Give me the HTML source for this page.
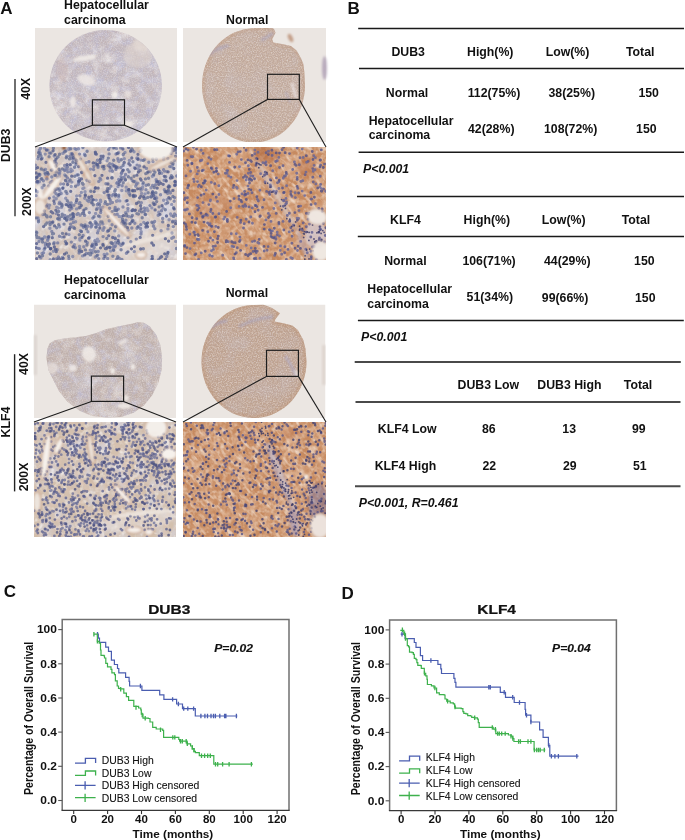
<!DOCTYPE html>
<html><head><meta charset="utf-8"><title>Figure</title>
<style>
html,body{margin:0;padding:0;background:#fff;}
body{width:685px;height:840px;position:relative;overflow:hidden;font-family:"Liberation Sans",Arial,sans-serif;}
svg text{font-family:"Liberation Sans",Arial,sans-serif;}
</style></head><body>
<svg width="685" height="840" viewBox="0 0 685 840" style="position:absolute;left:0;top:0">
<defs>
<filter id="soft" x="-5%" y="-5%" width="110%" height="110%"><feGaussianBlur stdDeviation="0.65"/></filter>
<filter id="blur1" x="-5%" y="-5%" width="110%" height="110%"><feGaussianBlur stdDeviation="0.9"/></filter>
<filter id="tx1" x="0" y="0" width="100%" height="100%">
  <feTurbulence type="fractalNoise" baseFrequency="0.07 0.05" numOctaves="3" seed="3"/>
  <feColorMatrix type="matrix" values="0 0 0 0 0.68  0 0 0 0 0.69  0 0 0 0 0.80  2.2 0 0 0 -0.9"/>
</filter>
<filter id="tx2" x="0" y="0" width="100%" height="100%">
  <feTurbulence type="fractalNoise" baseFrequency="0.06 0.08" numOctaves="3" seed="7"/>
  <feColorMatrix type="matrix" values="0 0 0 0 0.72  0 0 0 0 0.45  0 0 0 0 0.30  2.0 0 0 0 -0.9"/>
</filter>
<filter id="speck" x="0" y="0" width="100%" height="100%">
  <feTurbulence type="fractalNoise" baseFrequency="0.8" numOctaves="2" seed="11"/>
  <feColorMatrix type="matrix" values="0 0 0 0 1  0 0 0 0 0.98  0 0 0 0 0.96  0 0 0 -2.2 1.35"/>
</filter>
<filter id="speckd" x="0" y="0" width="100%" height="100%">
  <feTurbulence type="fractalNoise" baseFrequency="0.75" numOctaves="2" seed="5"/>
  <feColorMatrix type="matrix" values="0 0 0 0 0.45  0 0 0 0 0.42  0 0 0 0 0.62  2.6 0 0 0 -1.45"/>
</filter>
<filter id="speckb" x="0" y="0" width="100%" height="100%">
  <feTurbulence type="fractalNoise" baseFrequency="0.6" numOctaves="2" seed="9"/>
  <feColorMatrix type="matrix" values="0 0 0 0 0.66  0 0 0 0 0.45  0 0 0 0 0.36  2.6 0 0 0 -1.5"/>
</filter>
<filter id="blot" x="0" y="0" width="100%" height="100%">
  <feTurbulence type="fractalNoise" baseFrequency="0.045 0.06" numOctaves="4" seed="21"/>
  <feColorMatrix type="matrix" values="0 0 0 0 0.95  0 0 0 0 0.93  0 0 0 0 0.91  3.2 0 0 0 -1.75"/>
</filter>
<filter id="blot2" x="0" y="0" width="100%" height="100%">
  <feTurbulence type="fractalNoise" baseFrequency="0.05 0.04" numOctaves="4" seed="4"/>
  <feColorMatrix type="matrix" values="0 0 0 0 0.95  0 0 0 0 0.93  0 0 0 0 0.91  3.2 0 0 0 -1.75"/>
</filter>
<filter id="hfS" x="0" y="0" width="100%" height="100%">
  <feTurbulence type="fractalNoise" baseFrequency="0.26 0.1" numOctaves="2" seed="61"/>
  <feColorMatrix type="matrix" values="0 0 0 0 0.96  0 0 0 0 0.88  0 0 0 0 0.80  3.2 0 0 0 -1.65"/>
</filter>
<filter id="hfL" x="0" y="0" width="100%" height="100%">
  <feTurbulence type="fractalNoise" baseFrequency="0.22" numOctaves="2" seed="41"/>
  <feColorMatrix type="matrix" values="0 0 0 0 0.95  0 0 0 0 0.87  0 0 0 0 0.79  3.0 0 0 0 -1.45"/>
</filter>
<filter id="hfD" x="0" y="0" width="100%" height="100%">
  <feTurbulence type="fractalNoise" baseFrequency="0.18" numOctaves="2" seed="43"/>
  <feColorMatrix type="matrix" values="0 0 0 0 0.70  0 0 0 0 0.40  0 0 0 0 0.24  3.0 0 0 0 -1.5"/>
</filter>
<filter id="hfG" x="0" y="0" width="100%" height="100%">
  <feTurbulence type="fractalNoise" baseFrequency="0.2" numOctaves="2" seed="45"/>
  <feColorMatrix type="matrix" values="0 0 0 0 0.93  0 0 0 0 0.90  0 0 0 0 0.87  3.0 0 0 0 -1.5"/>
</filter>
<filter id="hfB" x="0" y="0" width="100%" height="100%">
  <feTurbulence type="fractalNoise" baseFrequency="0.16" numOctaves="2" seed="47"/>
  <feColorMatrix type="matrix" values="0 0 0 0 0.72  0 0 0 0 0.55  0 0 0 0 0.45  3.0 0 0 0 -1.55"/>
</filter>
<filter id="mott" x="0" y="0" width="100%" height="100%">
  <feTurbulence type="fractalNoise" baseFrequency="0.13" numOctaves="3" seed="51"/>
  <feColorMatrix type="matrix" values="0 0 0 0 0.52  0 0 0 0 0.51  0 0 0 0 0.68  2.6 0 0 0 -1.15"/>
</filter>
<filter id="mottw" x="0" y="0" width="100%" height="100%">
  <feTurbulence type="fractalNoise" baseFrequency="0.11" numOctaves="3" seed="53"/>
  <feColorMatrix type="matrix" values="0 0 0 0 0.97  0 0 0 0 0.95  0 0 0 0 0.94  2.6 0 0 0 -1.2"/>
</filter>
<filter id="lav" x="0" y="0" width="100%" height="100%">
  <feTurbulence type="fractalNoise" baseFrequency="0.04" numOctaves="3" seed="33"/>
  <feColorMatrix type="matrix" values="0 0 0 0 0.62  0 0 0 0 0.64  0 0 0 0 0.80  2.4 0 0 0 -1.1"/>
</filter>

<clipPath id="cd1"><rect x="35" y="28" width="142" height="114"/></clipPath>
<clipPath id="cd2"><rect x="183" y="28" width="143" height="114"/></clipPath>
<clipPath id="cd3"><rect x="35" y="147" width="142" height="113"/></clipPath>
<clipPath id="cd4"><rect x="183" y="147" width="143" height="113"/></clipPath>
<clipPath id="ck1"><rect x="34" y="304.5" width="142" height="113.5"/></clipPath>
<clipPath id="ck2"><rect x="183" y="304.5" width="142.5" height="113.5"/></clipPath>
<clipPath id="ck3"><rect x="34" y="422" width="142" height="115"/></clipPath>
<clipPath id="ck4"><rect x="183" y="422" width="143" height="115"/></clipPath>
</defs>
<g clip-path="url(#cd1)"><rect x="35" y="28" width="142" height="114" fill="#ebe6e2"/><clipPath id="td1"><ellipse cx="105.7" cy="85.6" rx="56.2" ry="55.6"/></clipPath><g clip-path="url(#td1)"><rect x="35" y="28" width="142" height="114" fill="#c1b6bc"/><rect x="35" y="28" width="142" height="114" filter="url(#lav)" opacity="0.45"/><rect x="35" y="28" width="142" height="114" filter="url(#mott)" opacity="0.7"/><rect x="35" y="28" width="142" height="114" filter="url(#mottw)" opacity="0.4"/><rect x="35" y="28" width="142" height="114" filter="url(#blot)" opacity="0.5"/><rect x="35" y="28" width="142" height="114" filter="url(#speckb)" opacity="0.55"/><rect x="35" y="28" width="142" height="114" filter="url(#speck)" opacity="0.35"/><g filter="url(#blur1)"><ellipse cx="85" cy="58" rx="12" ry="2.8" fill="#f1ece8" opacity="0.85" transform="rotate(-8 85 58)"/><ellipse cx="86" cy="80" rx="9" ry="5" fill="#efe9e5" opacity="0.8" transform="rotate(20 86 80)"/><ellipse cx="73" cy="102" rx="3" ry="6" fill="#f0eae6" opacity="0.85"/><ellipse cx="115" cy="95" rx="3" ry="3.5" fill="#f3eeea" opacity="0.9"/><ellipse cx="128" cy="94" rx="3.5" ry="4" fill="#efe7e2" opacity="0.7"/><ellipse cx="138" cy="55" rx="14" ry="13" fill="#dcd0cb" opacity="0.6"/><ellipse cx="142" cy="44" rx="9" ry="7" fill="#e4dad4" opacity="0.6"/><ellipse cx="128" cy="124" rx="5" ry="3" fill="#f1ebe6" opacity="0.85"/><ellipse cx="62" cy="70" rx="6" ry="12" fill="#c8b0a8" opacity="0.35"/></g></g></g>
<g clip-path="url(#cd2)"><rect x="183" y="28" width="143" height="114" fill="#ebe6e2"/><clipPath id="td2"><path d="M305.0,85.5L304.8,90.7L304.1,95.9L303.0,101.1L301.5,106.0L299.6,110.8L297.3,115.4L294.7,119.8L291.6,123.8L288.3,127.5L284.6,130.9L280.7,133.9L276.6,136.4L272.3,138.6L267.8,140.3L263.2,141.5L258.5,142.2L253.7,142.5L249.0,142.3L244.3,141.6L239.7,140.4L235.1,138.8L230.8,136.7L226.6,134.1L222.7,131.2L219.0,127.9L215.7,124.2L212.6,120.2L209.9,115.8L207.6,111.3L205.6,106.5L204.1,101.5L203.0,96.4L202.3,91.2L202.0,86.0L202.2,80.7L202.8,75.5L203.8,70.4L205.3,65.4L207.2,60.6L209.4,56.0L212.1,51.6L215.1,47.5L218.4,43.8L222.0,40.4L225.9,37.4L230.0,34.8L234.3,32.6L238.8,30.9L243.4,29.6L248.1,28.8L262.0,27.0L270.0,27.0L274.0,29.0L275.5,32.7L272.2,39.3L273.3,42.6L283.3,44.3L291.0,46.0L296.6,50.4L301.0,58.2L303.3,63.7L304.4,72.6Z"/></clipPath><g clip-path="url(#td2)"><rect x="183" y="28" width="143" height="114" fill="#c2aa9c"/><rect x="183" y="28" width="143" height="114" filter="url(#speckb)" opacity="0.35"/><rect x="183" y="28" width="143" height="114" filter="url(#speckd)" opacity="0.25"/><rect x="183" y="28" width="143" height="114" filter="url(#speck)" opacity="0.45"/><rect x="183" y="28" width="143" height="114" filter="url(#lav)" opacity="0.25"/><path d="M305.0,85.5L304.8,90.7L304.1,95.9L303.0,101.1L301.5,106.0L299.6,110.8L297.3,115.4L294.7,119.8L291.6,123.8L288.3,127.5L284.6,130.9L280.7,133.9L276.6,136.4L272.3,138.6L267.8,140.3L263.2,141.5L258.5,142.2L253.7,142.5L249.0,142.3L244.3,141.6L239.7,140.4L235.1,138.8L230.8,136.7L226.6,134.1L222.7,131.2L219.0,127.9L215.7,124.2L212.6,120.2L209.9,115.8L207.6,111.3L205.6,106.5L204.1,101.5L203.0,96.4L202.3,91.2L202.0,86.0L202.2,80.7L202.8,75.5L203.8,70.4L205.3,65.4L207.2,60.6L209.4,56.0L212.1,51.6L215.1,47.5L218.4,43.8L222.0,40.4L225.9,37.4L230.0,34.8L234.3,32.6L238.8,30.9L243.4,29.6L248.1,28.8L262.0,27.0L270.0,27.0L274.0,29.0L275.5,32.7L272.2,39.3L273.3,42.6L283.3,44.3L291.0,46.0L296.6,50.4L301.0,58.2L303.3,63.7L304.4,72.6Z" fill="none" stroke="#b98a66" stroke-width="6" stroke-opacity="0.22" filter="url(#blur1)"/><g filter="url(#blur1)" stroke-linecap="round" fill="none"><path d="M209,55 Q218,47 228,46" stroke="#a4a0c0" stroke-width="3" stroke-opacity="0.5"/><path d="M262,40 L272,34" stroke="#a4a0c0" stroke-width="3" stroke-opacity="0.5"/><path d="M292,84 L296,97" stroke="#e8e0e0" stroke-width="3" stroke-opacity="0.8"/><path d="M286,92 L290,102" stroke="#a8a4c0" stroke-width="2" stroke-opacity="0.5"/></g></g></g>
<g filter="url(#blur1)"><ellipse cx="290.5" cy="38" rx="2.2" ry="4.5" fill="#c4a08a" transform="rotate(-25 290.5 38)"/><ellipse cx="324.5" cy="68" rx="2.5" ry="12" fill="#a898b0" opacity="0.75"/></g>
<g clip-path="url(#ck1)"><rect x="34" y="304.5" width="142" height="113.5" fill="#ebe6e2"/><clipPath id="tk1"><path d="M49.5,343.4L54.7,340.3L65.1,338.2L75.5,337.2L85.8,336.1L96.2,333.0L106.6,328.9L116.9,326.8L131.4,323.7L137.6,322.2L143.9,322.7L150.1,326.8L156.3,335.1L160.5,345.5L162.1,357.9L161.5,370.3L158.4,382.8L152.2,395.2L143.9,405.6L133.5,412.8L121.1,417.0L106.6,417.6L92.0,416.0L79.6,410.8L67.2,401.4L58.9,391.1L53.7,380.7L48.5,370.3L46.4,357.9L47.5,348.6Z"/></clipPath><g clip-path="url(#tk1)"><rect x="34" y="304.5" width="142" height="113.5" fill="#bfb0ac"/><rect x="34" y="304.5" width="142" height="113.5" filter="url(#lav)" opacity="0.3"/><rect x="34" y="304.5" width="142" height="113.5" filter="url(#mott)" opacity="0.6"/><rect x="34" y="304.5" width="142" height="113.5" filter="url(#mottw)" opacity="0.3"/><rect x="34" y="304.5" width="142" height="113.5" filter="url(#blot2)" opacity="0.45"/><rect x="34" y="304.5" width="142" height="113.5" filter="url(#speckb)" opacity="0.6"/><rect x="34" y="304.5" width="142" height="113.5" filter="url(#speck)" opacity="0.35"/><g filter="url(#blur1)"><ellipse cx="89" cy="354" rx="7" ry="8" fill="#f1ece8" opacity="0.85" transform="rotate(-20 89 354)"/><ellipse cx="73" cy="368" rx="4" ry="3.5" fill="#f0eae6" opacity="0.85"/><ellipse cx="112.7" cy="371" rx="2.2" ry="3" fill="#f3eeea" opacity="0.9"/><ellipse cx="133" cy="367" rx="2.2" ry="3" fill="#f3eeea" opacity="0.9"/><ellipse cx="123" cy="342" rx="5" ry="2" fill="#efe8e3" opacity="0.8" transform="rotate(-35 123 342)"/><ellipse cx="124" cy="406" rx="7" ry="3" fill="#f1ebe6" opacity="0.85"/><ellipse cx="126" cy="398" rx="3" ry="3" fill="#f1ebe6" opacity="0.85"/><ellipse cx="52" cy="368" rx="6" ry="6" fill="#e8e0dc" opacity="0.7"/></g></g></g>
<g clip-path="url(#ck2)"><rect x="183" y="304.5" width="142.5" height="113.5" fill="#ebe6e2"/><clipPath id="tk2"><path d="M306.5,361.5L306.3,366.8L305.6,372.1L304.4,377.3L302.8,382.3L300.8,387.2L298.3,391.8L295.5,396.1L292.3,400.2L288.7,403.9L284.9,407.2L280.7,410.1L276.4,412.6L271.8,414.7L267.1,416.2L262.2,417.3L257.3,417.9L252.4,418.0L247.4,417.6L242.5,416.6L237.8,415.2L233.1,413.4L228.7,411.0L224.5,408.2L220.5,405.0L216.9,401.5L213.5,397.5L210.6,393.3L208.0,388.7L205.8,383.9L204.1,379.0L202.8,373.8L201.9,368.6L201.5,363.3L201.6,358.0L202.1,352.7L203.1,347.4L204.6,342.4L206.5,337.4L208.8,332.7L211.5,328.3L214.6,324.1L218.1,320.3L221.8,316.9L225.9,313.8L230.2,311.2L234.7,309.0L239.4,307.2L244.2,306.0L249.1,305.3L254.0,305.0L263.0,304.6L272.0,308.0L280.0,313.3L275.5,318.9L274.4,321.6L283.3,323.3L292.2,325.5L297.8,330.0L303.3,340.0L305.5,348.9Z"/></clipPath><g clip-path="url(#tk2)"><rect x="183" y="304.5" width="142.5" height="113.5" fill="#bea290"/><rect x="183" y="304.5" width="142.5" height="113.5" filter="url(#speckb)" opacity="0.4"/><rect x="183" y="304.5" width="142.5" height="113.5" filter="url(#speckd)" opacity="0.25"/><rect x="183" y="304.5" width="142.5" height="113.5" filter="url(#speck)" opacity="0.45"/><rect x="183" y="304.5" width="142.5" height="113.5" filter="url(#lav)" opacity="0.25"/><path d="M306.5,361.5L306.3,366.8L305.6,372.1L304.4,377.3L302.8,382.3L300.8,387.2L298.3,391.8L295.5,396.1L292.3,400.2L288.7,403.9L284.9,407.2L280.7,410.1L276.4,412.6L271.8,414.7L267.1,416.2L262.2,417.3L257.3,417.9L252.4,418.0L247.4,417.6L242.5,416.6L237.8,415.2L233.1,413.4L228.7,411.0L224.5,408.2L220.5,405.0L216.9,401.5L213.5,397.5L210.6,393.3L208.0,388.7L205.8,383.9L204.1,379.0L202.8,373.8L201.9,368.6L201.5,363.3L201.6,358.0L202.1,352.7L203.1,347.4L204.6,342.4L206.5,337.4L208.8,332.7L211.5,328.3L214.6,324.1L218.1,320.3L221.8,316.9L225.9,313.8L230.2,311.2L234.7,309.0L239.4,307.2L244.2,306.0L249.1,305.3L254.0,305.0L263.0,304.6L272.0,308.0L280.0,313.3L275.5,318.9L274.4,321.6L283.3,323.3L292.2,325.5L297.8,330.0L303.3,340.0L305.5,348.9Z" fill="none" stroke="#b98a66" stroke-width="6" stroke-opacity="0.28" filter="url(#blur1)"/><g filter="url(#blur1)" stroke-linecap="round" fill="none"><path d="M212,327 Q218,322 226,321" stroke="#a4a0c0" stroke-width="3" stroke-opacity="0.55"/><path d="M240,326 Q255,318 272,317" stroke="#a4a0c0" stroke-width="3" stroke-opacity="0.5"/><path d="M286,357 Q292,366 296,376" stroke="#a8a4c4" stroke-width="3" stroke-opacity="0.55"/><path d="M296,372 L298,376" stroke="#f0e8e4" stroke-width="3" stroke-opacity="0.8"/></g></g></g>
<rect x="34" y="335" width="3" height="40" fill="#d8d0cc" opacity="0.8" filter="url(#blur1)"/>
<rect x="322" y="345" width="3.5" height="40" fill="#dbd1cb" opacity="0.8" filter="url(#blur1)"/>
<g clip-path="url(#cd3)"><rect x="35" y="147" width="142" height="113" fill="#d2c4bc"/><rect x="35" y="147" width="142" height="113" filter="url(#tx1)" opacity="1"/><rect x="35" y="147" width="142" height="113" filter="url(#hfG)" opacity="0.7"/><rect x="35" y="147" width="142" height="113" filter="url(#hfB)" opacity="0.5"/><g filter="url(#blur1)"><ellipse cx="52" cy="187.5" rx="14.6" ry="3.5" fill="#f6f1ec" fill-opacity="0.95" stroke="#c39a7c" stroke-width="1.2" stroke-opacity="0.7" transform="rotate(-52 52 187.5)"/><ellipse cx="52.5" cy="165.5" rx="7.4" ry="3" fill="#f6f1ec" fill-opacity="0.95" stroke="#c39a7c" stroke-width="1.2" stroke-opacity="0.7" transform="rotate(61.7 52.5 165.5)"/><ellipse cx="40.5" cy="194" rx="9.3" ry="2" fill="#f6f1ec" fill-opacity="0.9" transform="rotate(74.5 40.5 194)"/><ellipse cx="84" cy="169" rx="18.4" ry="2.5" fill="#eee6de" fill-opacity="0.85" stroke="#c39a7c" stroke-width="1.2" stroke-opacity="0.7" transform="rotate(60.6 84 169)"/><ellipse cx="116.5" cy="222" rx="20.2" ry="2.5" fill="#f6f1ec" fill-opacity="0.9" stroke="#c39a7c" stroke-width="1.2" stroke-opacity="0.7" transform="rotate(48 116.5 222)"/><ellipse cx="156" cy="150" rx="17" ry="10" fill="#f4efea" fill-opacity="0.97" stroke="#c39a7c" stroke-width="1.2" stroke-opacity="0.7" transform="rotate(0 156 150)"/><ellipse cx="163" cy="163.5" rx="15.4" ry="2.5" fill="#eee6de" fill-opacity="0.85" stroke="#c39a7c" stroke-width="1.2" stroke-opacity="0.7" transform="rotate(-24.9 163 163.5)"/><ellipse cx="147" cy="245" rx="30" ry="14" fill="#e6dbd3" fill-opacity="0.55" transform="rotate(-20 147 245)"/><ellipse cx="149" cy="239.5" rx="29" ry="1.5" fill="#eee6de" fill-opacity="0.8" transform="rotate(-15 149 239.5)"/><ellipse cx="141" cy="255" rx="5" ry="3" fill="#f6f1ec" fill-opacity="0.9" stroke="#c39a7c" stroke-width="1.2" stroke-opacity="0.7" transform="rotate(0 141 255)"/><ellipse cx="40" cy="207" rx="6" ry="8" fill="#eee6de" fill-opacity="0.8" stroke="#c39a7c" stroke-width="1.2" stroke-opacity="0.7" transform="rotate(0 40 207)"/><ellipse cx="64" cy="148" rx="2" ry="2" fill="#7a3818" fill-opacity="0.9" transform="rotate(0 64 148)"/><ellipse cx="47" cy="177" rx="1.5" ry="2.2" fill="#9a5530" fill-opacity="0.8" transform="rotate(0 47 177)"/><ellipse cx="85" cy="172" rx="2" ry="4" fill="#b07048" fill-opacity="0.6" transform="rotate(20 85 172)"/><path transform="translate(35,147)" d="M83.3 19.0l8.7 10.6M66.0 76.6l6.4 -4.2M38.9 80.2l4.2 6.4M5.7 18.8l5.7 3.6M50.7 53.0l8.3 2.4M56.4 20.6l8.7 -3.8M11.8 96.3l10.8 3.9M129.1 43.5l8.9 -1.5M56.5 77.3l6.0 -0.5M76.3 37.5l5.6 2.6M-3.6 64.4l4.1 -6.0M22.5 3.1l6.7 2.7M105.7 39.6l11.2 -0.6M70.8 102.7l6.1 5.9M100.0 79.1l3.9 -4.6M-0.1 37.5l9.6 9.6M122.5 9.6l9.8 6.3M118.0 92.4l5.6 -4.4M115.5 85.8l13.1 -1.5M130.2 12.1l9.5 9.8M46.3 3.3l9.6 4.0M48.3 2.1l6.4 5.2M8.8 110.3l6.5 -4.6M12.1 115.7l12.3 -4.9M9.5 75.4l6.8 -11.2M91.2 100.4l9.6 1.4M117.2 24.3l7.7 2.7M79.0 60.8l5.3 6.9M38.8 78.5l12.9 -2.7M3.3 22.1l4.8 -4.4M13.3 37.1l8.9 -1.0M96.1 78.2l11.0 -3.2M95.8 62.6l7.0 0.7M43.4 78.1l10.2 -6.1M61.1 51.0l4.8 -6.9M2.5 117.1l11.8 -1.5M96.3 28.1l6.9 9.5M112.5 52.2l8.8 10.7M3.9 45.7l8.6 -4.4M88.7 12.6l8.8 8.2" fill="none" stroke="#c9a88c" stroke-width="1.0" stroke-opacity="0.45" stroke-linecap="round"/></g><g filter="url(#soft)"><path d="M54.1 242.8h0M71.2 203.0h0M39.0 241.4h0M39.3 149.9h0M168.4 190.1h0M67.8 171.7h0M76.1 149.4h0M61.4 259.2h0M137.5 227.4h0M94.9 240.8h0M78.1 213.4h0M155.2 204.1h0M39.9 174.4h0M93.8 166.5h0M134.8 223.2h0M97.3 204.5h0M39.2 151.9h0M174.6 214.0h0M59.2 203.8h0M144.4 208.0h0M68.0 205.1h0M149.9 205.6h0M95.5 153.3h0M115.9 169.6h0M67.6 167.0h0M71.3 242.1h0M73.8 227.4h0M50.4 248.7h0M64.7 215.4h0M137.1 165.1h0M173.5 237.2h0M66.7 220.3h0M116.8 183.3h0M43.3 180.7h0M159.3 181.6h0M79.1 253.1h0M116.0 166.4h0M173.3 226.6h0M49.8 222.3h0M106.0 183.8h0M63.5 184.0h0M146.1 185.3h0M130.8 241.7h0M83.8 246.7h0M103.8 258.4h0M164.4 171.1h0M158.2 215.3h0M45.4 244.9h0M152.6 185.5h0M146.0 189.7h0M66.8 156.2h0M161.5 210.8h0M100.0 178.3h0M69.0 258.7h0M164.3 189.7h0M164.1 180.2h0M102.7 158.3h0M40.6 148.2h0M77.0 214.4h0M79.5 154.1h0M65.6 216.8h0M112.1 224.8h0M71.8 208.2h0M70.0 156.2h0M174.6 197.6h0M126.4 253.3h0M78.6 184.0h0M78.0 184.8h0M117.2 214.3h0M125.2 179.9h0M169.8 166.6h0M80.4 159.1h0M165.5 180.2h0M79.9 249.0h0M96.4 164.8h0M171.8 238.3h0M111.9 243.2h0M38.5 220.0h0M116.0 154.0h0M54.6 161.1h0M152.7 192.0h0M110.1 203.6h0M97.2 224.6h0M68.8 202.9h0M67.0 193.6h0M87.8 226.2h0M119.4 243.8h0M70.6 171.6h0M131.8 228.0h0M108.1 165.6h0M40.8 257.9h0M124.2 177.2h0M171.2 162.7h0M154.6 221.5h0M98.2 251.4h0M89.3 237.7h0M77.0 175.0h0M35.6 168.5h0M38.0 217.9h0M153.6 170.3h0M112.0 177.9h0M70.6 224.2h0M112.4 202.5h0M144.2 211.5h0M75.3 159.2h0M51.8 231.4h0M172.0 233.0h0M54.4 203.5h0M79.2 203.8h0M110.0 147.1h0M98.8 181.4h0M146.2 224.2h0M35.6 178.4h0M107.6 258.5h0M153.5 193.2h0M175.2 181.5h0M123.0 207.0h0M35.5 191.0h0M92.5 244.3h0M141.3 202.7h0M125.9 220.3h0M92.8 218.1h0M72.6 227.0h0M112.3 164.2h0M107.5 231.2h0M107.0 253.9h0M92.1 224.8h0M64.7 170.5h0M73.2 155.5h0M109.3 188.6h0M139.6 166.0h0M136.3 239.1h0M121.6 173.2h0M59.5 236.2h0M81.8 172.1h0M39.3 248.6h0M79.9 195.8h0M146.5 168.5h0M58.5 257.0h0M121.1 176.6h0M54.7 162.6h0M137.0 228.2h0M42.9 214.5h0M65.8 150.9h0M122.1 185.7h0M91.8 202.9h0M58.9 173.2h0M100.7 212.5h0M136.5 184.3h0M89.4 212.6h0M91.8 246.4h0M88.9 161.7h0M40.0 153.9h0M47.9 150.1h0M140.7 224.6h0M129.1 191.0h0M43.5 252.7h0M84.6 215.4h0M109.1 153.9h0M93.6 169.5h0M95.2 221.8h0M140.5 228.5h0M48.0 238.9h0M91.1 227.0h0M156.5 181.3h0M69.8 210.0h0M83.1 235.5h0M117.9 158.8h0M98.7 258.6h0M153.5 226.2h0M57.3 188.8h0M48.8 186.0h0M41.2 239.1h0M79.5 180.7h0M81.2 231.6h0M109.7 163.8h0M174.1 201.2h0M166.7 256.6h0M148.8 162.2h0M116.7 259.2h0M86.3 253.5h0M92.2 199.5h0M132.6 210.6h0M61.2 193.5h0M42.1 158.2h0M72.7 159.1h0M45.3 243.1h0M87.3 242.8h0M75.3 247.7h0M95.4 223.3h0M176.7 176.0h0M141.0 234.0h0M104.2 192.6h0M155.9 198.8h0M52.0 181.2h0M112.1 211.6h0M109.6 208.3h0M170.4 193.1h0M78.7 181.1h0M118.3 209.1h0M58.1 218.9h0M139.5 210.9h0M92.1 252.8h0M89.4 199.5h0M87.9 231.7h0M59.4 176.4h0M118.7 179.4h0M71.6 205.1h0M133.2 196.0h0M104.0 227.8h0M38.7 175.6h0M170.2 192.1h0M121.9 259.5h0M110.9 186.2h0M113.5 194.4h0M51.8 177.0h0M103.1 236.6h0M90.3 222.6h0M156.3 159.0h0M163.6 169.7h0M94.2 247.3h0M76.0 202.6h0M112.4 171.3h0M175.4 221.3h0M172.6 177.2h0M97.5 232.9h0M67.5 178.0h0M114.6 214.6h0M56.1 193.8h0M87.2 200.2h0M121.0 167.5h0M81.3 225.0h0M79.8 202.8h0M71.4 156.9h0M134.8 210.6h0M67.1 169.5h0M160.6 194.7h0M37.8 181.5h0M47.0 172.4h0M174.9 185.5h0M108.6 149.6h0M54.8 175.3h0M137.9 158.7h0M54.7 192.1h0M125.6 174.4h0M73.9 205.2h0M169.7 186.8h0M121.1 245.4h0M131.4 217.1h0M115.2 207.5h0M162.6 218.5h0M59.9 171.3h0M110.3 200.5h0M127.9 208.5h0M154.8 228.7h0M39.3 181.8h0M159.8 171.4h0M155.4 184.9h0M57.7 242.9h0M97.4 160.3h0M73.3 222.4h0M120.7 147.9h0M114.8 246.8h0M145.6 214.6h0M167.6 193.2h0" stroke="#66709c" stroke-width="3.4" stroke-linecap="round" stroke-opacity="0.72" fill="none"/><path d="M128.0 237.6h0M79.5 246.4h0M150.9 196.8h0M59.5 219.6h0M83.4 227.3h0M38.1 248.4h0M136.8 158.3h0M172.7 221.2h0M100.5 200.2h0M97.6 208.2h0M143.8 222.4h0M76.0 164.6h0M37.7 191.8h0M69.0 234.6h0M171.4 166.8h0M107.9 195.3h0M167.9 228.9h0M133.1 220.9h0M126.4 190.7h0M126.1 201.1h0M69.0 148.4h0M79.3 178.4h0M119.5 258.4h0M80.2 207.4h0M151.0 187.7h0M115.5 242.5h0M71.2 186.5h0M70.9 169.2h0M111.3 169.4h0M158.8 212.3h0M90.6 169.1h0M141.0 190.2h0M118.9 161.6h0M45.5 174.3h0M75.6 221.8h0M135.7 186.3h0M47.6 240.5h0M100.8 179.8h0M119.1 216.5h0M71.2 153.6h0M79.8 238.8h0M124.3 158.7h0M107.1 160.7h0M52.2 169.8h0M88.7 201.5h0M73.0 219.1h0M165.8 203.8h0M153.0 161.6h0M151.9 207.9h0M163.9 157.6h0M97.7 255.1h0M62.0 204.6h0M63.0 187.6h0M44.2 249.4h0M175.7 241.4h0M163.6 200.2h0M113.4 249.8h0M95.6 213.5h0M56.2 213.6h0M74.4 244.7h0M145.1 193.9h0M116.5 148.6h0M82.8 188.6h0M125.5 212.8h0M98.4 203.5h0M35.5 165.2h0M50.3 182.8h0M151.7 259.5h0M72.7 256.5h0M46.8 178.9h0M72.3 170.8h0M103.2 230.3h0M79.8 251.6h0M53.9 197.0h0M141.1 150.2h0M95.3 257.0h0M118.3 160.8h0M62.9 153.2h0M82.6 255.9h0M113.4 148.0h0M110.0 170.7h0M132.2 180.6h0M37.9 158.8h0M96.4 227.0h0M115.0 209.2h0M102.8 223.9h0M156.7 197.9h0M153.2 223.3h0M115.0 238.0h0M71.8 182.1h0M161.7 173.2h0M134.3 251.6h0M126.2 187.3h0M36.2 231.9h0M78.5 148.7h0M118.7 235.9h0M121.3 173.3h0M134.5 167.7h0M86.9 180.2h0M109.7 199.1h0M45.5 169.5h0M121.3 216.8h0M56.6 258.8h0M135.0 181.7h0M130.9 150.5h0M113.7 245.8h0M80.1 215.2h0M76.5 208.9h0M36.6 182.1h0M104.8 203.6h0M141.2 231.7h0M49.6 205.2h0M53.4 251.2h0M44.4 148.0h0M65.0 169.6h0M66.0 166.9h0M48.9 236.8h0M41.1 179.3h0M118.7 197.0h0M129.4 160.5h0M141.0 160.1h0M150.2 171.8h0M39.6 175.4h0M84.7 198.3h0M128.7 216.5h0M45.3 237.1h0M110.6 251.0h0M142.2 188.9h0M85.0 191.8h0M115.5 245.5h0M56.2 198.7h0M54.2 156.0h0M156.5 182.0h0M113.1 247.2h0M61.5 207.4h0M138.1 168.7h0M171.7 204.4h0M124.0 222.2h0M73.5 216.4h0M64.8 174.9h0M81.4 192.5h0M42.0 253.4h0M67.4 182.2h0M163.0 208.0h0M112.0 195.8h0M117.5 200.7h0M64.6 165.5h0M42.0 187.7h0M83.6 212.0h0M37.5 182.7h0M40.1 152.9h0M80.3 230.8h0M176.5 215.4h0M116.4 201.3h0M45.2 154.1h0M60.6 184.0h0M153.5 175.5h0M104.2 254.4h0M125.0 152.5h0M166.7 171.6h0M127.9 210.9h0M121.4 223.3h0M84.9 191.9h0M115.5 245.8h0M98.8 241.1h0M69.5 229.5h0M140.2 151.4h0M115.9 226.1h0M147.9 210.6h0M114.8 230.9h0M118.6 152.8h0M151.7 196.5h0M142.6 187.3h0M97.8 241.1h0M127.9 204.6h0M175.8 184.3h0M113.4 166.2h0M170.6 213.9h0M174.3 160.5h0M128.0 230.0h0M97.4 239.1h0M137.5 158.0h0M98.0 167.6h0M62.5 257.2h0M90.3 250.1h0M145.2 209.9h0M155.7 196.9h0M49.4 153.1h0M167.1 199.6h0M58.3 208.1h0M161.1 230.7h0M56.2 163.5h0M121.8 172.4h0M65.7 198.3h0M56.5 189.3h0M74.8 148.6h0M98.2 230.7h0M117.5 182.4h0M59.7 202.3h0M100.1 207.8h0M79.9 240.1h0M137.8 183.1h0M100.7 201.7h0M142.9 184.1h0M83.9 187.9h0M128.8 193.2h0M156.2 179.6h0M91.4 225.9h0M59.9 190.9h0M171.3 215.3h0M121.8 190.5h0M76.7 196.0h0M56.8 207.3h0M97.1 208.3h0M172.7 165.1h0M59.7 173.6h0M86.2 162.6h0M84.5 154.3h0M110.1 247.3h0M134.0 151.8h0M61.9 237.1h0M144.6 159.4h0M49.9 228.2h0M109.2 220.7h0M55.3 189.0h0M141.6 193.5h0M68.8 149.4h0M99.9 216.7h0M42.7 239.1h0M36.1 195.6h0M94.0 244.2h0M99.5 224.8h0M118.0 186.5h0M69.9 219.3h0M44.5 237.0h0M96.2 200.1h0M48.8 207.9h0M169.1 219.7h0M93.2 250.0h0M102.8 229.9h0M44.5 213.9h0M163.7 159.6h0M47.4 204.9h0M68.3 181.7h0M116.4 210.3h0M176.4 183.3h0M102.8 207.3h0M59.7 226.8h0M118.1 167.6h0M129.6 193.8h0M119.8 200.9h0M152.4 176.3h0M147.1 208.2h0M50.2 259.8h0M155.8 197.4h0" stroke="#737ca5" stroke-width="3.4" stroke-linecap="round" stroke-opacity="0.72" fill="none"/><path d="M173.6 207.8h0M123.4 154.3h0M36.7 177.0h0M132.3 215.4h0M98.5 216.0h0M85.1 225.0h0M72.9 162.2h0M121.8 178.9h0M96.0 242.9h0M85.4 249.9h0M147.1 172.9h0M86.9 245.0h0M65.9 176.1h0M79.3 234.7h0M176.4 248.5h0M144.1 198.6h0M53.7 243.9h0M108.3 158.1h0M116.6 167.1h0M126.3 214.2h0M96.5 209.6h0M142.2 217.7h0M55.1 161.4h0M122.5 219.2h0M73.5 214.3h0M152.8 159.0h0M56.7 227.7h0M38.5 221.7h0M144.4 198.3h0M75.3 237.7h0M172.9 150.2h0M53.5 233.6h0M39.0 237.8h0M46.9 223.0h0M46.9 216.0h0M78.6 181.8h0M123.1 243.1h0M59.3 217.9h0M70.5 215.1h0M125.1 226.3h0M103.3 245.7h0M113.6 250.3h0M123.2 182.7h0M65.0 151.4h0M66.2 219.0h0M147.8 197.4h0M45.0 173.1h0M170.3 198.8h0M121.1 249.7h0M36.5 235.3h0M41.0 155.7h0M78.2 174.9h0M62.4 169.0h0M123.5 224.5h0M67.3 200.7h0M74.7 176.3h0M159.1 206.9h0M74.6 167.3h0M38.6 152.8h0M66.1 191.8h0M138.4 214.1h0M132.9 161.8h0M41.3 169.0h0M62.1 205.9h0M58.1 156.9h0M42.5 242.0h0M37.1 237.5h0M102.4 166.8h0M115.4 238.8h0M172.7 221.9h0M44.0 185.2h0M107.7 188.5h0M117.7 242.7h0M168.7 187.2h0M115.4 189.6h0M50.1 224.6h0M143.3 248.7h0M99.6 204.8h0M131.1 178.3h0M58.7 224.7h0M138.6 202.3h0M171.4 175.8h0M38.5 156.5h0M129.1 171.7h0M59.2 189.0h0M145.4 198.2h0M102.0 222.0h0M114.9 210.6h0M79.2 207.8h0M131.8 148.9h0M68.7 256.3h0M107.7 191.5h0M123.1 165.4h0M66.5 252.9h0M172.9 196.5h0M93.3 204.8h0M58.0 195.7h0M107.3 204.4h0M59.4 259.0h0M75.6 186.2h0M86.0 208.6h0M128.4 176.8h0M57.8 259.6h0M70.8 148.8h0M140.3 170.5h0M50.7 248.5h0M168.0 191.0h0M151.1 196.9h0M95.7 227.1h0M42.5 255.7h0M44.6 214.0h0M51.3 170.1h0M68.1 216.7h0M91.8 202.3h0M39.8 155.5h0M57.1 249.8h0M118.7 195.2h0M46.5 216.0h0M165.3 209.8h0M74.6 228.4h0M111.9 177.7h0M165.7 176.8h0M69.3 229.1h0M132.4 150.0h0M125.5 179.8h0M133.6 196.6h0M143.2 182.7h0M146.7 225.5h0M42.3 238.9h0M132.5 220.5h0M176.2 149.0h0M145.1 214.3h0M108.3 216.2h0M58.6 211.4h0M117.8 257.4h0M90.5 253.2h0M55.8 166.3h0M162.7 221.9h0M126.2 215.4h0M90.8 191.3h0M57.7 218.6h0M52.0 222.9h0M50.2 254.0h0M173.5 216.4h0M57.6 211.9h0M152.7 192.0h0M49.1 156.8h0M41.8 178.8h0M167.4 254.0h0M100.1 160.2h0M66.7 219.5h0M107.4 247.1h0M96.2 223.0h0M154.3 187.5h0M130.0 195.3h0M50.9 153.0h0M153.7 174.4h0M158.7 259.8h0M148.5 178.2h0M95.5 163.1h0M151.9 222.3h0M57.9 177.8h0M81.4 231.4h0M56.2 172.0h0M37.4 253.0h0M134.1 176.3h0M45.4 224.7h0M83.1 184.3h0M83.7 213.5h0M85.2 155.5h0M154.9 172.2h0M111.0 242.8h0M123.2 154.7h0M118.4 242.2h0M167.6 202.8h0M82.4 183.3h0M79.1 250.8h0M148.5 184.7h0M90.0 223.1h0M153.3 202.9h0M117.8 256.8h0M50.5 216.8h0M53.4 148.2h0M85.3 196.1h0M98.0 166.0h0M122.6 170.7h0M90.4 254.9h0M128.7 189.9h0M82.4 213.4h0M148.1 192.7h0M145.8 173.6h0M125.8 223.7h0M145.5 178.9h0M47.1 216.9h0M133.6 181.5h0M64.6 151.8h0M35.4 190.1h0M145.8 223.9h0M110.4 228.6h0M94.0 216.7h0M165.3 191.7h0M57.6 157.3h0M112.3 243.3h0M62.2 214.3h0M70.1 180.0h0M173.0 163.6h0M86.4 228.9h0M66.1 244.1h0M126.6 215.8h0M71.6 218.8h0M155.9 192.8h0M156.7 201.6h0M82.9 147.5h0M95.2 188.4h0M104.0 168.9h0M138.2 226.8h0M115.7 226.7h0M121.3 159.7h0M132.6 190.4h0M66.3 157.8h0M106.8 238.5h0M88.7 253.5h0M61.2 203.9h0M143.3 160.5h0M114.1 147.6h0M136.9 213.6h0M62.5 233.4h0M65.8 191.4h0M59.6 154.3h0M64.0 224.1h0M61.9 216.4h0M112.9 256.2h0M141.7 211.9h0M115.5 196.0h0M116.7 210.3h0M113.7 160.3h0M140.3 188.6h0M114.8 191.3h0M176.7 152.9h0M100.8 221.9h0M121.5 178.9h0M47.5 172.6h0M65.4 241.6h0M43.8 170.1h0M36.8 232.7h0M69.6 158.9h0M105.4 201.8h0M95.6 251.8h0M96.9 255.8h0M36.2 217.9h0M127.7 169.6h0M55.8 175.4h0M87.1 151.3h0M59.0 169.3h0M83.1 225.7h0M52.5 234.0h0" stroke="#5c6690" stroke-width="3.4" stroke-linecap="round" stroke-opacity="0.72" fill="none"/><path d="M110.0 167.2h0M93.2 162.9h0M168.0 252.3h0M173.8 168.5h0M85.6 241.2h0M48.5 237.0h0M78.6 166.6h0M168.1 171.8h0M37.6 167.6h0M172.2 151.2h0M109.6 247.6h0M136.9 175.2h0M36.7 258.6h0M73.3 246.8h0M89.8 181.5h0M70.2 205.5h0M145.9 227.1h0M56.2 251.7h0M84.7 254.9h0M155.1 209.9h0M54.4 247.0h0M53.1 150.8h0M99.8 228.0h0M95.5 187.7h0M76.5 200.7h0M36.1 173.0h0M175.6 147.3h0M69.9 227.4h0M66.6 243.3h0M163.2 184.3h0M52.3 237.7h0M64.1 236.9h0M147.6 226.8h0M49.4 244.0h0M166.5 216.0h0M96.3 154.2h0M70.7 191.3h0M81.3 205.4h0M45.0 247.9h0M81.8 172.5h0M129.9 223.7h0M117.4 153.4h0M72.7 213.6h0M135.3 210.1h0M105.0 256.4h0M140.7 249.0h0M53.4 258.9h0M95.8 154.1h0M135.3 168.4h0M68.9 206.5h0M114.3 165.7h0M66.2 204.7h0M67.6 184.6h0M48.3 246.3h0M130.6 151.3h0M79.2 180.9h0M157.6 181.7h0M76.8 160.5h0M127.4 227.7h0M64.6 218.3h0M164.7 253.8h0M65.5 180.5h0M101.0 210.1h0M39.4 256.4h0M123.3 170.1h0M165.6 259.3h0M166.1 191.6h0M138.4 172.0h0M37.0 177.3h0M168.2 186.8h0M132.9 190.9h0M168.6 241.1h0M134.7 190.7h0M55.1 154.7h0M106.4 248.5h0M166.3 181.0h0M135.4 196.0h0M100.5 247.8h0M168.8 197.6h0M162.0 205.6h0M154.1 204.5h0M70.3 164.7h0M152.0 193.5h0M58.5 215.1h0M148.1 171.8h0M140.4 178.8h0M132.8 209.6h0M131.8 158.0h0M174.9 181.6h0M83.9 210.1h0M171.4 177.9h0M174.8 185.2h0M172.9 190.4h0M172.5 149.0h0M115.8 194.5h0M122.8 244.0h0M118.1 240.5h0M102.0 175.3h0M49.3 198.1h0M165.4 238.7h0M119.1 184.4h0M158.6 170.0h0M158.7 184.3h0M141.1 180.1h0M44.3 210.8h0M98.1 188.1h0M100.0 162.6h0M106.9 191.0h0M141.1 208.5h0M52.8 221.9h0M170.4 178.0h0M97.5 164.5h0M124.1 223.1h0M67.1 164.6h0M131.5 248.8h0M82.0 237.3h0M138.0 154.3h0M47.4 244.3h0M131.8 221.8h0M152.2 256.3h0M85.3 194.8h0M128.9 163.7h0M130.1 165.1h0M108.0 184.0h0M122.7 221.4h0M56.0 159.1h0M127.9 251.8h0M144.0 166.8h0M100.3 159.1h0M62.8 188.3h0M73.4 157.7h0M88.5 238.2h0M152.4 258.4h0M143.5 196.7h0M174.2 208.9h0M108.7 235.8h0M54.6 225.9h0M139.6 197.8h0M160.0 214.3h0M164.3 176.3h0M108.6 230.6h0M153.5 245.2h0M63.2 258.3h0M89.6 181.2h0M128.7 189.3h0M175.6 223.7h0M119.7 181.5h0M134.4 246.6h0M168.3 225.5h0M154.6 198.4h0M161.5 256.7h0M55.0 189.8h0M175.5 156.3h0M112.7 237.5h0M85.2 226.4h0M81.7 251.5h0M36.6 243.6h0M171.0 153.6h0M107.6 178.2h0M153.5 195.4h0M94.9 175.6h0M48.2 174.1h0M116.0 167.8h0M37.4 181.5h0M93.4 199.8h0M105.4 248.6h0M41.3 159.0h0M76.8 199.4h0M72.3 154.0h0M175.0 150.2h0M140.6 205.7h0M46.3 206.2h0M109.0 195.1h0M152.7 235.3h0M81.5 178.9h0M46.0 162.3h0M160.4 257.6h0M157.2 188.1h0M144.2 166.8h0M95.3 152.1h0M140.2 237.4h0M137.7 188.8h0M91.6 196.5h0M53.9 201.0h0M133.5 195.3h0M120.9 180.2h0M127.1 200.6h0M159.5 173.3h0M131.9 210.6h0M59.1 194.5h0M73.3 216.7h0M103.1 156.2h0M70.9 206.9h0M160.9 183.3h0M109.0 197.7h0M43.6 226.6h0M46.4 150.0h0M96.3 244.7h0M138.0 159.3h0M71.7 176.2h0M50.7 248.7h0M88.8 197.2h0M36.0 247.7h0M124.3 162.4h0M103.9 166.4h0M66.1 233.9h0M64.5 254.1h0M147.6 222.8h0M168.8 185.9h0M136.5 203.5h0M73.1 246.9h0M101.1 156.1h0M51.1 211.6h0M55.5 249.4h0M55.8 210.3h0M167.8 158.5h0M52.7 212.9h0M94.2 191.6h0M151.8 243.0h0M140.7 196.3h0M123.4 215.7h0M102.9 244.4h0M124.0 162.9h0M128.6 147.5h0M122.9 149.0h0M92.0 245.6h0M38.9 174.1h0M76.0 162.7h0" stroke="#4f5a8a" stroke-width="3.3" stroke-linecap="round" stroke-opacity="0.78" fill="none"/></g><g filter="url(#blur1)" opacity="0.85"><ellipse cx="52" cy="187.5" rx="14.6" ry="3.5" fill="#f6f1ec" fill-opacity="0.95" stroke="#c39a7c" stroke-width="1.2" stroke-opacity="0.7" transform="rotate(-52 52 187.5)"/><ellipse cx="52.5" cy="165.5" rx="7.4" ry="3" fill="#f6f1ec" fill-opacity="0.95" stroke="#c39a7c" stroke-width="1.2" stroke-opacity="0.7" transform="rotate(61.7 52.5 165.5)"/><ellipse cx="40.5" cy="194" rx="9.3" ry="2" fill="#f6f1ec" fill-opacity="0.9" transform="rotate(74.5 40.5 194)"/><ellipse cx="84" cy="169" rx="18.4" ry="2.5" fill="#eee6de" fill-opacity="0.85" stroke="#c39a7c" stroke-width="1.2" stroke-opacity="0.7" transform="rotate(60.6 84 169)"/><ellipse cx="116.5" cy="222" rx="20.2" ry="2.5" fill="#f6f1ec" fill-opacity="0.9" stroke="#c39a7c" stroke-width="1.2" stroke-opacity="0.7" transform="rotate(48 116.5 222)"/><ellipse cx="156" cy="150" rx="17" ry="10" fill="#f4efea" fill-opacity="0.97" stroke="#c39a7c" stroke-width="1.2" stroke-opacity="0.7" transform="rotate(0 156 150)"/><ellipse cx="163" cy="163.5" rx="15.4" ry="2.5" fill="#eee6de" fill-opacity="0.85" stroke="#c39a7c" stroke-width="1.2" stroke-opacity="0.7" transform="rotate(-24.9 163 163.5)"/><ellipse cx="149" cy="239.5" rx="29" ry="1.5" fill="#eee6de" fill-opacity="0.8" transform="rotate(-15 149 239.5)"/><ellipse cx="141" cy="255" rx="5" ry="3" fill="#f6f1ec" fill-opacity="0.9" stroke="#c39a7c" stroke-width="1.2" stroke-opacity="0.7" transform="rotate(0 141 255)"/><ellipse cx="40" cy="207" rx="6" ry="8" fill="#eee6de" fill-opacity="0.8" stroke="#c39a7c" stroke-width="1.2" stroke-opacity="0.7" transform="rotate(0 40 207)"/></g></g>
<g clip-path="url(#cd4)"><rect x="183" y="147" width="143" height="113" fill="#c68a60"/><rect x="183" y="147" width="143" height="113" filter="url(#tx2)" opacity="0.75"/><rect x="183" y="147" width="143" height="113" filter="url(#hfL)" opacity="0.45"/><rect x="183" y="147" width="143" height="113" filter="url(#hfD)" opacity="1"/><rect x="144.5" y="93.5" width="220" height="220" filter="url(#hfS)" opacity="0.6" transform="rotate(-40 254.5 203.5)"/><g filter="url(#blur1)"><path transform="translate(183,147)" d="M111.9 74.3l6.7 -7.5M98.5 114.2l9.3 -4.4M0.5 59.9l6.3 -4.9M88.5 100.3l10.2 -4.7M45.0 10.8l9.2 -5.3M103.3 -0.5l5.9 -6.1M67.2 101.0l5.2 -7.0M132.4 101.9l8.1 -11.0M34.9 16.7l9.6 -11.7M14.5 22.1l9.3 -10.3M145.5 32.9l8.3 -9.3M39.7 101.4l11.0 -11.6M48.5 2.1l5.9 -5.3M74.7 65.5l6.2 -7.2M80.0 37.9l8.8 -3.4M84.9 -3.1l14.5 -5.6M54.7 115.5l6.5 -2.7M20.8 101.3l11.9 -4.7M41.2 75.4l9.8 -11.9M23.3 63.5l4.4 -5.9M-2.6 37.7l9.8 -7.8M87.4 -1.8l5.7 -4.0M19.0 -3.4l5.6 -3.5M141.9 56.0l4.0 -4.5M99.2 92.5l6.3 -5.0M0.6 61.5l10.8 -8.3M115.1 23.8l9.9 -7.9M87.3 4.0l8.8 -5.8M30.8 63.1l4.7 -4.0M139.0 74.6l10.1 -4.6M101.1 57.6l8.9 -4.0M81.3 55.0l6.3 -7.4M24.1 69.1l10.1 -5.3M63.7 42.3l8.0 -8.3M142.1 73.1l7.1 -5.5M123.6 112.0l11.8 -5.3M118.4 40.2l7.9 -6.4M3.0 67.8l10.2 -5.3M47.0 115.2l11.0 -7.6M29.8 109.9l10.8 -7.0M24.6 19.4l7.3 -3.1M62.8 81.2l11.6 -5.8M39.2 19.8l10.0 -12.0M148.0 43.7l4.4 -4.4M112.3 44.9l4.5 -5.8M2.6 65.3l8.3 -5.0M14.2 29.9l8.4 -8.0M101.2 27.1l11.5 -7.1M58.1 81.6l8.7 -3.7M108.4 30.1l12.2 -7.9M127.2 82.3l12.3 -8.9M47.7 85.4l12.2 -9.1M104.6 69.4l6.2 -6.9M90.3 15.5l9.3 -4.9M53.3 48.2l12.9 -8.8M77.7 18.8l10.0 -9.0M104.6 112.3l9.7 -10.5M137.1 76.9l4.6 -6.2M32.9 66.9l6.2 -8.9M140.2 3.2l11.4 -8.8M117.3 94.6l9.7 -8.6M74.3 20.1l5.0 -7.0M50.9 105.9l8.0 -10.5M47.4 48.7l8.9 -6.8M123.1 19.1l10.5 -6.6M-2.5 13.7l6.0 -4.0M126.4 103.5l11.7 -8.4M89.8 76.6l7.1 -5.5M15.6 35.8l9.0 -3.5M27.0 55.1l4.0 -5.3M74.0 67.7l10.5 -3.9M67.8 72.0l9.4 -11.4M112.8 11.3l13.0 -7.0M114.5 100.7l4.0 -5.1M59.0 3.0l9.9 -11.4M30.5 84.2l6.4 -3.0M48.8 60.9l8.8 -11.4M34.0 41.8l9.3 -9.2M59.5 20.5l9.1 -7.7M94.2 -4.3l10.7 -4.3" fill="none" stroke="#f0d8c4" stroke-width="1.3" stroke-opacity="0.6" stroke-linecap="round"/><ellipse cx="277" cy="196" rx="47.5" ry="3.5" fill="#c4b0b0" fill-opacity="0.55" transform="rotate(59.7 277 196)"/><ellipse cx="303.5" cy="246" rx="15" ry="3.5" fill="#bcaab4" fill-opacity="0.55" transform="rotate(68.6 303.5 246)"/><ellipse cx="276" cy="193" rx="38.9" ry="1.2" fill="#efe2d6" fill-opacity="0.6" transform="rotate(60.8 276 193)"/><ellipse cx="317" cy="217" rx="10" ry="8" fill="#f0e7e1" fill-opacity="0.97" stroke="#c39a7c" stroke-width="1.2" stroke-opacity="0.7" transform="rotate(10 317 217)"/><ellipse cx="321" cy="251" rx="9" ry="10" fill="#f0e8e2" fill-opacity="0.97" stroke="#c39a7c" stroke-width="1.2" stroke-opacity="0.7" transform="rotate(0 321 251)"/><ellipse cx="316" cy="235" rx="11" ry="14" fill="#d3c6ca" fill-opacity="0.85" transform="rotate(0 316 235)"/><ellipse cx="266" cy="155" rx="12" ry="9" fill="#b36a40" fill-opacity="0.55" transform="rotate(0 266 155)"/><ellipse cx="307" cy="167" rx="9" ry="10" fill="#b86e44" fill-opacity="0.5" transform="rotate(0 307 167)"/><ellipse cx="213" cy="207" rx="20" ry="14" fill="#c07a55" fill-opacity="0.25" transform="rotate(0 213 207)"/></g><g filter="url(#soft)"><path d="M191.1 156.6h0M302.5 230.2h0M278.8 181.8h0M269.7 215.6h0M266.1 164.9h0M244.6 191.5h0M286.4 259.4h0M318.8 208.5h0M246.6 177.3h0M188.1 150.1h0M249.5 183.0h0M237.3 247.8h0M258.2 210.3h0M216.8 149.7h0M229.5 162.4h0M256.0 259.9h0M279.5 167.5h0M310.8 237.0h0M288.0 249.4h0M292.1 236.2h0M233.6 257.9h0M320.6 165.2h0M290.8 227.8h0M249.0 206.9h0M253.1 251.5h0M254.6 241.0h0M233.6 246.8h0M311.7 199.1h0M264.2 251.0h0M286.5 202.0h0M214.7 183.7h0M283.0 165.8h0M312.8 177.3h0M313.3 182.0h0M319.9 226.8h0M255.1 205.5h0M276.2 213.4h0M227.6 170.5h0M256.2 252.6h0M272.1 155.5h0M300.3 229.0h0M312.8 168.6h0M289.5 153.6h0M276.4 177.9h0M215.4 245.9h0M198.2 206.0h0M305.1 174.7h0M213.1 246.5h0M243.5 228.0h0M187.6 187.9h0M207.6 223.0h0M194.9 254.9h0M186.6 229.4h0M186.0 175.9h0M299.3 164.8h0M209.3 225.1h0M238.1 151.9h0M324.6 164.1h0M188.2 185.9h0M271.0 230.9h0M199.2 185.1h0M187.4 197.7h0M292.5 230.6h0M312.0 232.4h0M306.3 226.7h0M250.6 172.5h0M277.5 182.7h0M197.6 197.6h0M308.1 161.4h0M266.6 191.4h0M256.6 163.3h0M320.2 176.3h0M269.7 194.4h0M185.6 210.0h0M203.1 153.4h0M187.8 165.2h0M196.7 218.8h0M255.7 258.1h0M316.6 259.4h0M216.2 197.3h0M218.9 213.8h0M272.3 237.4h0M284.5 176.0h0M243.5 206.5h0M183.7 151.0h0M241.4 159.6h0M286.5 174.2h0M197.3 167.5h0M216.1 171.6h0M257.5 199.5h0M227.3 219.5h0M213.4 249.4h0M320.7 229.4h0M245.0 204.8h0M266.1 152.8h0M242.8 206.3h0M208.9 157.6h0M297.8 188.4h0M257.2 251.1h0M270.3 179.7h0M323.6 189.1h0M185.7 224.4h0M197.5 181.6h0M303.2 223.0h0M185.2 198.0h0M241.7 201.9h0M212.8 213.5h0M193.6 179.1h0M236.3 252.7h0M193.9 232.3h0M210.5 211.6h0M239.0 199.3h0M290.8 191.6h0M200.4 160.8h0M194.5 243.1h0M274.7 255.4h0M282.0 149.8h0M277.3 234.8h0M286.5 203.3h0M234.1 198.6h0M297.2 177.4h0M258.3 201.0h0M319.5 237.9h0M316.3 241.5h0M225.4 173.2h0M252.9 176.3h0M244.2 223.7h0M300.0 157.8h0M233.9 259.7h0M203.9 194.1h0M192.6 156.7h0M311.1 258.7h0M275.7 161.5h0M225.4 173.2h0M278.9 224.0h0M245.8 206.2h0M199.0 208.1h0M318.8 232.4h0M196.8 205.4h0M285.3 176.1h0M311.0 199.1h0M283.6 192.7h0M325.3 235.5h0M265.0 163.4h0M246.1 150.3h0M268.1 246.6h0M208.8 204.6h0M252.0 192.8h0M284.6 252.8h0M283.9 200.4h0M320.6 184.4h0M289.6 221.4h0M291.9 243.3h0M215.2 217.2h0M240.6 222.4h0M184.7 199.5h0M284.8 246.8h0M276.0 239.2h0M185.5 253.6h0M287.3 215.5h0M312.5 247.0h0M197.4 239.2h0M292.7 169.5h0M289.4 213.2h0M210.4 237.9h0M202.7 216.2h0M245.1 175.7h0M264.0 199.8h0M212.3 256.2h0" stroke="#5c5b90" stroke-width="2.9" stroke-linecap="round" stroke-opacity="0.8" fill="none"/><path d="M193.4 147.3h0M252.4 241.6h0M277.2 232.3h0M252.4 223.3h0M230.9 177.2h0M254.9 150.1h0M194.4 232.2h0M207.8 231.8h0M295.2 192.7h0M279.5 236.0h0M306.6 162.2h0M206.2 190.1h0M249.4 180.3h0M184.5 210.0h0M321.3 188.4h0M259.9 190.2h0M246.3 245.4h0M227.1 220.3h0M252.2 207.9h0M313.8 155.7h0M300.9 181.4h0M275.4 236.9h0M276.4 191.4h0M303.2 157.5h0M273.6 191.2h0M258.9 243.2h0M297.1 218.1h0M227.1 173.3h0M248.4 173.2h0M222.7 255.2h0M199.0 239.5h0M237.2 188.2h0M228.5 155.7h0M248.4 165.8h0M246.2 180.0h0M310.9 251.2h0M246.2 219.3h0M315.9 183.9h0M197.2 173.9h0M210.1 223.7h0M236.5 187.2h0M296.7 173.3h0M298.6 218.5h0M240.2 240.1h0M231.9 246.3h0M315.4 203.8h0M281.7 254.2h0M289.2 231.9h0M307.3 252.7h0M290.8 257.6h0M224.7 217.3h0M278.9 188.5h0M239.5 166.7h0M320.0 187.0h0M251.2 248.0h0M209.7 255.6h0M201.2 150.2h0M233.2 187.6h0M314.2 246.8h0M291.9 196.3h0M260.6 173.8h0M302.2 191.1h0M223.7 219.1h0M204.5 182.7h0M315.4 157.7h0M203.3 170.1h0M218.9 194.5h0M218.8 185.7h0M218.2 174.1h0M270.3 185.0h0M236.3 233.8h0M191.8 163.3h0M304.7 195.6h0M294.4 162.0h0M257.8 242.5h0M231.3 233.8h0M270.3 191.6h0M325.6 191.3h0M250.8 217.0h0M228.3 241.7h0M268.4 213.4h0M260.0 258.3h0M324.4 242.0h0M248.0 193.5h0M258.0 152.2h0M198.5 259.5h0M201.3 252.9h0M280.2 250.4h0M194.1 181.6h0M297.1 148.0h0M198.2 186.6h0M207.8 163.6h0M278.8 157.4h0M190.1 248.6h0M217.5 201.4h0M262.9 162.7h0M254.8 153.8h0M211.5 250.8h0M300.6 206.1h0M280.5 245.9h0M203.0 202.6h0M201.8 160.2h0M198.5 170.9h0M190.6 171.3h0M237.2 217.4h0M305.8 249.2h0M285.6 204.3h0M314.1 165.4h0M198.1 239.4h0M272.7 170.8h0M237.0 180.6h0M244.6 195.3h0M239.9 237.1h0M299.0 210.6h0M250.6 179.1h0M292.4 258.5h0M215.8 226.4h0M283.0 221.4h0M187.4 209.3h0M211.9 169.0h0M265.9 219.9h0M272.4 230.9h0M283.5 200.7h0M189.8 234.3h0M300.7 241.4h0M268.5 151.3h0M211.0 159.2h0M273.9 208.5h0M209.7 255.0h0M249.3 180.0h0M212.9 240.1h0M283.2 178.3h0M242.0 193.9h0M286.0 198.5h0M277.3 160.8h0M283.4 177.8h0M313.2 171.2h0M230.7 207.8h0M239.1 206.4h0M315.1 169.7h0M293.4 225.3h0M295.4 197.6h0M248.0 186.1h0M250.7 175.8h0M210.3 200.8h0M210.5 200.0h0M265.0 182.0h0M207.4 215.4h0M306.0 172.1h0M271.0 221.4h0M309.5 224.1h0M227.0 170.4h0M302.7 180.8h0M184.8 245.4h0M211.3 182.4h0M228.6 175.9h0M286.6 185.7h0M246.0 194.4h0M302.2 149.1h0M265.9 161.9h0M204.5 215.6h0M236.7 154.3h0M267.1 250.3h0M275.3 203.0h0M297.5 250.5h0M204.6 180.8h0M212.0 226.5h0M308.0 213.8h0" stroke="#66659a" stroke-width="2.9" stroke-linecap="round" stroke-opacity="0.8" fill="none"/><path d="M283.4 206.2h0M216.6 171.1h0M191.9 222.2h0M202.8 217.2h0M238.9 196.3h0M321.8 191.3h0M250.9 189.9h0M213.8 172.3h0M259.2 239.4h0M195.9 253.9h0M279.5 153.1h0M284.1 192.4h0M256.6 158.4h0M256.0 205.8h0M294.9 212.6h0M283.8 230.0h0M214.6 149.8h0M251.4 161.6h0M203.3 183.3h0M259.9 216.6h0M275.4 253.5h0M197.6 210.0h0M195.4 222.7h0M245.5 162.8h0M227.4 221.6h0M250.7 253.7h0M233.8 185.4h0M198.3 235.6h0M235.0 254.1h0M273.9 238.0h0M311.1 204.6h0M321.3 149.9h0M231.7 241.7h0M184.2 223.0h0M325.9 227.8h0M306.3 155.7h0M260.3 215.9h0M245.3 194.4h0M296.1 165.4h0M189.4 214.0h0M321.2 240.5h0M279.3 180.3h0M312.3 151.5h0M218.3 236.1h0M310.9 192.5h0M313.0 159.5h0M268.4 154.6h0M216.4 168.5h0M183.9 192.8h0M254.5 178.8h0M276.2 152.9h0M257.0 206.6h0M240.6 250.4h0M201.1 195.2h0M248.8 189.1h0M322.2 211.6h0M256.8 196.7h0M245.6 254.5h0M297.3 220.2h0M206.2 214.2h0M201.3 186.7h0M186.3 226.7h0M264.5 175.3h0M246.3 199.5h0M243.5 177.4h0M214.4 231.8h0M319.2 239.8h0M271.9 150.2h0M226.2 241.9h0M322.1 208.9h0M264.4 224.6h0M218.3 227.5h0M235.2 242.7h0M249.0 222.0h0M262.5 207.4h0M248.9 254.6h0M290.9 194.4h0M255.3 248.5h0M289.8 220.8h0M320.1 160.2h0M268.5 217.5h0M248.0 255.8h0M321.3 191.1h0M271.1 233.5h0M282.5 188.0h0M297.1 186.4h0M204.0 222.1h0M275.8 193.2h0M254.3 258.6h0M298.6 193.0h0M240.9 220.1h0M295.1 248.3h0M278.9 222.4h0M240.3 151.6h0M248.0 159.9h0M317.7 188.0h0M269.5 229.8h0M208.5 241.2h0M229.6 156.1h0M268.8 192.5h0M314.4 197.2h0M196.5 149.1h0M187.3 202.8h0M285.1 152.8h0M230.2 201.1h0M311.4 256.7h0M308.1 219.2h0M265.2 172.2h0M270.6 165.8h0M226.4 240.8h0M264.2 229.1h0M249.5 178.6h0M255.0 211.8h0M217.6 242.5h0M323.3 167.5h0M217.6 238.7h0M286.2 172.4h0M266.8 173.9h0M306.4 213.4h0M256.0 165.3h0M241.0 200.4h0M234.7 167.3h0M211.3 226.1h0M315.3 242.4h0M271.0 236.4h0M202.1 170.7h0M283.6 147.2h0M195.0 235.0h0M211.2 167.9h0M239.5 241.6h0M184.5 246.2h0M226.6 211.5h0M250.6 160.8h0M320.0 166.9h0M298.1 246.3h0M247.9 255.5h0M192.0 163.7h0M252.2 155.4h0M298.5 206.5h0M297.2 179.4h0M186.9 247.6h0M212.8 194.1h0M201.0 213.3h0M249.3 169.4h0M188.6 185.2h0M295.0 164.4h0M215.7 216.9h0M273.8 237.9h0M275.2 243.0h0M205.2 251.2h0M187.1 160.4h0M197.8 234.6h0M255.2 251.1h0M270.8 186.7h0M319.9 229.8h0M211.0 209.5h0M185.9 149.0h0M274.3 228.3h0M306.1 232.1h0M202.6 230.4h0M323.3 223.5h0M251.7 180.3h0M192.1 217.7h0M320.5 160.0h0M300.4 248.4h0M233.4 242.6h0M205.3 181.0h0M264.0 246.4h0" stroke="#515084" stroke-width="2.9" stroke-linecap="round" stroke-opacity="0.8" fill="none"/><path d="M302.3 228.4h0M316.3 240.9h0M244.0 147.8h0M303.4 233.6h0M265.2 183.4h0M299.5 230.0h0M271.7 192.2h0M304.2 234.0h0M309.7 249.1h0M285.5 208.4h0M270.0 187.1h0M316.9 232.8h0M318.6 232.0h0M313.2 250.8h0M285.1 205.7h0M321.7 239.4h0M304.8 259.2h0M266.9 172.4h0M324.1 232.3h0M308.9 240.4h0M307.3 232.0h0M272.8 191.8h0M319.7 226.5h0M304.3 231.7h0M257.7 159.0h0M314.0 239.0h0M258.8 167.7h0M308.8 214.4h0M294.3 225.5h0M280.5 206.1h0M305.1 255.8h0M295.7 221.9h0M322.8 230.6h0M258.8 163.7h0M259.5 164.5h0M271.1 180.5h0M314.8 241.7h0M309.4 212.9h0M256.6 163.4h0M261.0 164.9h0M262.7 176.7h0M321.1 233.4h0M289.8 219.1h0M281.8 209.8h0M286.8 218.7h0M319.3 231.9h0M281.6 199.6h0M309.0 258.9h0M306.7 250.0h0M312.6 225.0h0M309.1 232.4h0M303.7 237.4h0M291.8 226.4h0M267.6 183.2h0M299.6 226.2h0M321.4 241.0h0" stroke="#3e3c68" stroke-width="1.8" stroke-linecap="round" stroke-opacity="0.85" fill="none"/></g><g filter="url(#blur1)" opacity="0.85"><ellipse cx="317" cy="217" rx="10" ry="8" fill="#f0e7e1" fill-opacity="0.97" stroke="#c39a7c" stroke-width="1.2" stroke-opacity="0.7" transform="rotate(10 317 217)"/><ellipse cx="321" cy="251" rx="9" ry="10" fill="#f0e8e2" fill-opacity="0.97" stroke="#c39a7c" stroke-width="1.2" stroke-opacity="0.7" transform="rotate(0 321 251)"/></g></g>
<g clip-path="url(#ck3)"><rect x="34" y="422" width="142" height="115" fill="#d3c0ae"/><rect x="34" y="422" width="142" height="115" filter="url(#tx1)" opacity="0.8"/><rect x="34" y="422" width="142" height="115" filter="url(#hfG)" opacity="0.7"/><rect x="34" y="422" width="142" height="115" filter="url(#hfB)" opacity="0.8"/><g filter="url(#blur1)"><ellipse cx="46" cy="456.5" rx="22.7" ry="3.5" fill="#f6f1ec" fill-opacity="0.95" stroke="#c39a7c" stroke-width="1.2" stroke-opacity="0.7" transform="rotate(-82.4 46 456.5)"/><ellipse cx="58.5" cy="446" rx="8.7" ry="3" fill="#f6f1ec" fill-opacity="0.95" stroke="#c39a7c" stroke-width="1.2" stroke-opacity="0.7" transform="rotate(-66.4 58.5 446)"/><ellipse cx="156" cy="428" rx="11" ry="10" fill="#f4efea" fill-opacity="0.97" stroke="#c39a7c" stroke-width="1.2" stroke-opacity="0.7" transform="rotate(0 156 428)"/><ellipse cx="169" cy="454" rx="8" ry="6" fill="#f6f1ec" fill-opacity="0.95" stroke="#c39a7c" stroke-width="1.2" stroke-opacity="0.7" transform="rotate(0 169 454)"/><ellipse cx="91" cy="449" rx="15.1" ry="2.5" fill="#eee6de" fill-opacity="0.8" stroke="#c39a7c" stroke-width="1.2" stroke-opacity="0.7" transform="rotate(82.4 91 449)"/><ellipse cx="122.5" cy="494.5" rx="12.7" ry="2.5" fill="#f6f1ec" fill-opacity="0.9" stroke="#c39a7c" stroke-width="1.2" stroke-opacity="0.7" transform="rotate(48.2 122.5 494.5)"/><ellipse cx="139" cy="520" rx="36" ry="11" fill="#e6dbd3" fill-opacity="0.55" transform="rotate(-8 139 520)"/><ellipse cx="141.5" cy="513.5" rx="34.7" ry="1.5" fill="#eee6de" fill-opacity="0.8" transform="rotate(-5.8 141.5 513.5)"/><ellipse cx="134" cy="530" rx="8" ry="3" fill="#f6f1ec" fill-opacity="0.9" stroke="#c39a7c" stroke-width="1.2" stroke-opacity="0.7" transform="rotate(0 134 530)"/><ellipse cx="149" cy="532" rx="4" ry="3" fill="#f6f1ec" fill-opacity="0.9" stroke="#c39a7c" stroke-width="1.2" stroke-opacity="0.7" transform="rotate(0 149 532)"/><ellipse cx="37" cy="502" rx="4" ry="10" fill="#eee6de" fill-opacity="0.8" stroke="#c39a7c" stroke-width="1.2" stroke-opacity="0.7" transform="rotate(0 37 502)"/><path transform="translate(34,422)" d="M-0.2 116.1l3.9 6.5M138.9 27.3l9.9 -2.1M57.3 93.7l11.0 -6.2M77.7 80.8l7.5 -7.7M54.4 56.6l10.5 8.4M97.6 30.0l11.4 -7.3M46.3 14.6l8.7 6.2M101.7 98.4l11.0 3.7M33.2 114.8l12.3 6.5M146.5 105.4l11.2 6.7M118.4 81.4l5.3 4.6M48.6 75.5l13.2 -0.2M36.1 64.2l9.8 8.5M146.1 108.5l12.4 -0.4M22.8 111.6l3.7 5.1M92.2 24.5l6.6 3.2M6.0 48.9l4.9 -4.7M33.2 76.6l4.6 4.2M90.8 27.3l7.1 -9.3M33.5 58.0l12.0 4.6M1.0 114.9l5.7 -4.4M82.8 3.8l7.6 -5.3M63.5 38.7l8.8 -3.1M67.9 77.2l9.3 0.6M40.1 44.7l6.6 -0.6M71.6 14.9l8.5 1.0M68.9 73.9l6.3 5.0M17.6 109.9l7.7 -4.0M46.1 113.3l6.9 9.3M145.6 53.0l7.2 -10.1M118.5 27.0l8.1 3.0M72.3 64.0l8.3 -1.9M134.8 -1.7l5.9 1.8M7.5 27.0l4.5 -6.8M54.3 116.7l7.4 -10.5M145.3 107.8l10.0 -8.0M43.3 15.1l10.7 5.2M37.0 114.9l10.6 5.1M59.4 102.1l8.7 5.7M134.0 3.9l5.4 -3.3M135.2 36.1l9.0 1.1M78.3 51.2l12.5 -1.0M111.3 12.0l12.0 -0.9M72.2 11.9l9.5 -8.8M111.1 60.2l3.5 5.0" fill="none" stroke="#c9a588" stroke-width="1.0" stroke-opacity="0.45" stroke-linecap="round"/></g><g filter="url(#soft)"><path d="M67.8 484.6h0M43.3 423.5h0M70.8 448.9h0M100.8 518.2h0M124.7 439.3h0M157.3 482.2h0M129.3 429.4h0M156.9 476.4h0M158.8 504.1h0M90.1 514.1h0M166.9 523.1h0M53.3 447.0h0M106.0 466.4h0M162.4 500.4h0M129.3 440.8h0M114.8 504.1h0M43.0 520.2h0M46.6 514.1h0M55.4 455.8h0M121.3 427.2h0M81.0 523.3h0M105.8 536.8h0M62.0 468.9h0M56.2 426.9h0M78.6 532.2h0M87.6 474.9h0M125.4 490.5h0M122.1 530.2h0M95.2 504.8h0M76.8 534.4h0M111.9 423.3h0M116.4 424.3h0M123.8 428.9h0M100.2 500.1h0M42.6 499.7h0M69.7 474.5h0M79.4 463.9h0M114.8 506.5h0M60.6 472.1h0M81.4 517.9h0M155.5 441.5h0M98.1 447.9h0M109.2 443.9h0M153.1 443.1h0M148.6 495.8h0M83.0 436.9h0M146.7 453.2h0M93.2 470.3h0M174.1 472.0h0M165.7 447.5h0M152.8 498.2h0M162.3 501.8h0M115.9 423.5h0M58.4 456.5h0M108.5 469.6h0M156.4 476.9h0M84.0 444.7h0M150.0 441.7h0M72.5 452.9h0M94.1 476.4h0M51.7 429.9h0M105.3 458.3h0M83.9 496.4h0M85.2 444.0h0M51.6 485.9h0M87.0 491.5h0M88.0 514.1h0M95.3 464.8h0M133.8 470.4h0M99.4 450.2h0M132.7 430.2h0M94.5 523.2h0M87.1 525.3h0M71.2 475.4h0M149.5 498.2h0M146.5 498.8h0M114.1 433.9h0M34.7 438.5h0M153.8 499.5h0M169.2 488.6h0M39.2 510.3h0M135.6 434.3h0M59.5 450.7h0M141.0 467.3h0M90.3 462.3h0M45.8 479.5h0M132.1 509.0h0M107.4 477.6h0M107.5 473.0h0M76.0 503.1h0M64.9 424.7h0M85.2 459.0h0M54.4 536.0h0M119.1 475.8h0M150.7 486.1h0M136.3 520.5h0M100.4 448.4h0M135.9 499.7h0M155.3 449.8h0M70.7 443.5h0M155.9 525.5h0M156.8 458.0h0M152.4 455.6h0M116.4 499.7h0M81.5 472.2h0M63.8 489.3h0M47.8 530.2h0M143.7 509.1h0M130.0 497.2h0M71.7 508.7h0M129.5 483.7h0M104.1 462.5h0M130.4 487.1h0M125.7 494.6h0M136.3 490.7h0M125.9 474.6h0M59.0 429.9h0M141.1 484.5h0M85.0 452.6h0M105.7 450.4h0M84.3 460.3h0M110.9 510.7h0M60.9 469.9h0M149.8 508.1h0M108.9 487.4h0M168.8 466.1h0M116.8 494.9h0M131.5 456.4h0M102.7 491.2h0M34.3 510.6h0M103.8 482.2h0M61.5 482.9h0M105.1 496.3h0M160.7 437.6h0M122.5 427.8h0M67.1 431.0h0M166.0 459.2h0M132.6 437.5h0M135.7 507.1h0M148.5 529.2h0M96.1 509.0h0M62.4 440.5h0M133.3 483.8h0M126.2 457.0h0M86.7 482.9h0M145.2 438.5h0M97.6 468.9h0M41.3 468.4h0M37.8 533.0h0M145.9 475.5h0M76.7 450.7h0M47.3 500.5h0M39.2 428.2h0M161.8 445.1h0M101.7 514.4h0M89.4 460.4h0M165.8 442.1h0M138.2 518.1h0M165.1 463.7h0M66.6 511.6h0M72.3 441.5h0M120.0 503.7h0M103.2 439.7h0M37.3 475.7h0M130.2 433.2h0M153.8 495.9h0M157.9 473.7h0M138.1 460.4h0M169.7 434.1h0M49.6 431.3h0M125.5 489.3h0M66.6 533.2h0M113.9 470.3h0M100.1 447.6h0M83.1 491.4h0M49.8 518.1h0M149.7 445.7h0M112.5 506.6h0M126.1 491.7h0M83.8 536.5h0M57.5 529.1h0M120.9 529.1h0M93.5 531.0h0M168.8 477.7h0M91.8 536.7h0M75.5 529.4h0M139.8 453.7h0M83.0 507.3h0M74.8 433.9h0M142.3 502.5h0M86.9 440.6h0M99.8 482.5h0M85.1 520.1h0M99.8 524.0h0M76.2 449.9h0M35.4 437.1h0M63.0 510.5h0M173.1 512.3h0M111.5 432.8h0M69.1 514.2h0M71.0 427.1h0M123.1 499.7h0M148.8 450.4h0M106.3 517.6h0M125.3 525.2h0M100.4 498.5h0M107.6 441.6h0M111.7 468.9h0M98.6 514.3h0M108.1 469.4h0M151.5 529.1h0M38.3 488.1h0M103.2 454.2h0M163.5 433.8h0M86.7 481.2h0M164.7 442.8h0M151.6 458.4h0M79.1 467.1h0M52.7 450.8h0M62.4 431.1h0M139.5 518.4h0M72.0 477.5h0M111.6 427.4h0M170.0 438.6h0M59.3 536.2h0M170.4 483.5h0M49.2 466.8h0M52.0 462.5h0M44.9 444.1h0M68.9 462.8h0M102.9 502.9h0M37.0 461.7h0M145.0 487.4h0M110.4 472.9h0M152.3 445.1h0M166.5 519.6h0M170.8 518.6h0M172.9 469.1h0M50.3 423.6h0M131.3 482.4h0M47.1 484.1h0M54.8 491.0h0M105.9 465.0h0M84.9 491.1h0M166.9 521.2h0M74.7 534.3h0M51.5 479.6h0M171.3 474.1h0M174.1 482.8h0M121.7 430.0h0M42.4 520.3h0M173.3 464.2h0M95.2 521.8h0M85.3 456.6h0M90.7 464.8h0M65.2 464.7h0M53.8 431.4h0M74.2 425.4h0M164.8 483.5h0M151.6 518.3h0M159.0 465.5h0M160.4 455.0h0M152.2 443.1h0M95.9 433.2h0M132.2 431.6h0M43.4 423.1h0M93.9 524.9h0M81.1 470.2h0M159.6 445.2h0M166.8 482.2h0M100.6 520.6h0M74.4 534.9h0M109.0 445.3h0M161.8 437.3h0M122.0 462.8h0M95.5 457.9h0M157.7 446.8h0M167.1 435.8h0M60.5 426.3h0M88.6 519.9h0M42.1 468.2h0M65.3 472.9h0M68.9 502.5h0M129.3 492.1h0M140.6 467.3h0M118.9 494.2h0M41.9 512.5h0M83.1 536.5h0M59.4 504.4h0M109.0 519.8h0M97.4 478.7h0M160.7 523.7h0M130.4 506.5h0M133.1 486.7h0M49.6 485.7h0M136.9 441.8h0M61.9 469.0h0M49.2 428.3h0M62.6 480.1h0M48.3 483.8h0M157.3 481.3h0M168.6 476.8h0M71.2 532.7h0M115.1 480.7h0M65.7 535.3h0M48.0 502.9h0M66.0 474.6h0M128.7 453.0h0M86.9 522.1h0M105.6 501.0h0M148.2 451.6h0M58.1 495.7h0M141.7 480.1h0M154.4 505.6h0M40.2 486.0h0M173.2 507.0h0M138.9 439.2h0" stroke="#5b6190" stroke-width="2.8" stroke-linecap="round" stroke-opacity="0.72" fill="none"/><path d="M128.9 491.4h0M53.4 493.9h0M145.5 466.9h0M175.2 492.3h0M133.5 422.2h0M107.6 459.7h0M48.4 514.3h0M148.4 473.2h0M80.4 447.8h0M147.6 461.7h0M93.1 433.0h0M115.3 484.7h0M82.1 444.6h0M71.7 509.6h0M128.1 506.6h0M94.6 457.5h0M165.6 488.9h0M96.3 436.5h0M57.9 464.1h0M51.3 479.4h0M69.2 528.3h0M129.9 457.0h0M122.9 432.2h0M45.9 507.7h0M143.2 480.5h0M45.7 499.5h0M93.9 503.8h0M89.5 475.5h0M38.1 457.1h0M70.7 476.4h0M84.8 496.8h0M169.9 476.8h0M117.0 492.3h0M105.2 451.3h0M140.7 463.8h0M61.9 491.7h0M137.3 433.9h0M101.9 465.5h0M95.5 445.0h0M125.7 504.3h0M61.6 524.5h0M53.6 511.3h0M51.3 490.4h0M75.6 520.4h0M95.8 438.7h0M151.8 470.5h0M36.6 531.2h0M65.5 529.8h0M162.0 460.3h0M64.6 484.4h0M152.9 529.4h0M94.6 428.5h0M71.7 455.1h0M62.5 528.1h0M128.4 434.3h0M90.6 461.7h0M115.7 424.8h0M82.8 441.5h0M50.2 458.4h0M75.3 477.9h0M96.2 510.3h0M51.1 441.6h0M102.1 466.0h0M154.2 465.2h0M86.0 423.2h0M102.0 479.0h0M173.4 435.2h0M45.1 484.2h0M154.1 522.9h0M141.2 473.9h0M147.0 536.9h0M128.1 425.3h0M135.6 426.3h0M167.1 446.6h0M139.6 493.3h0M133.1 423.6h0M64.8 489.5h0M154.3 473.2h0M129.0 437.7h0M147.6 520.9h0M67.3 441.0h0M96.2 466.8h0M76.0 430.5h0M137.6 490.3h0M170.2 471.5h0M48.2 462.4h0M85.8 530.9h0M99.1 497.9h0M121.7 478.9h0M145.5 456.3h0M44.3 477.8h0M135.0 445.3h0M52.9 486.6h0M169.9 474.3h0M75.1 497.9h0M129.3 422.2h0M103.4 427.1h0M79.3 455.7h0M117.0 479.1h0M112.5 463.8h0M56.4 432.8h0M116.5 449.4h0M124.1 429.1h0M66.5 536.7h0M74.6 450.6h0M166.3 502.3h0M147.4 433.0h0M90.3 522.9h0M40.0 452.5h0M95.0 499.1h0M132.8 463.0h0M86.5 462.9h0M126.1 477.8h0M115.0 476.5h0M159.6 489.5h0M159.5 441.0h0M141.9 467.1h0M126.7 446.2h0M84.6 456.8h0M128.1 465.5h0M95.8 495.9h0M74.6 534.7h0M141.7 454.0h0M137.8 516.6h0M64.3 504.8h0M126.1 508.4h0M49.8 487.7h0M127.3 488.7h0M38.4 513.2h0M117.0 457.7h0M51.8 482.4h0M101.1 508.8h0M108.4 440.6h0M93.9 524.0h0M78.7 515.7h0M161.4 468.1h0M143.5 435.2h0M116.3 494.1h0M91.9 536.1h0M34.2 444.6h0M142.8 441.4h0M98.7 525.3h0M63.4 512.3h0M65.5 427.3h0M113.7 456.9h0M83.8 523.7h0M125.5 453.9h0M42.6 521.9h0M150.8 462.7h0M49.6 512.0h0M112.8 522.7h0M99.4 435.9h0M115.9 507.1h0M66.1 523.9h0M72.0 436.4h0M67.3 470.2h0M171.7 449.2h0M100.8 502.4h0M73.9 503.6h0M150.8 504.2h0M69.8 439.9h0M63.0 507.1h0M116.3 484.8h0M131.8 446.5h0M171.0 466.7h0M108.7 508.6h0M61.7 481.6h0M99.8 497.9h0M54.4 502.9h0M172.5 464.8h0M118.0 467.8h0M77.1 503.8h0M45.3 533.2h0M66.8 518.3h0M87.9 479.0h0M76.4 506.8h0M101.9 481.8h0M87.3 528.9h0M55.9 422.5h0M133.4 442.3h0M130.1 462.5h0M78.0 495.6h0M117.4 478.4h0M63.0 504.0h0M39.1 451.0h0M45.7 516.0h0M154.6 456.8h0M161.5 437.7h0M44.5 435.4h0M69.1 459.1h0M112.4 469.5h0M82.4 476.7h0M68.6 442.0h0M78.9 524.6h0M87.0 460.3h0M158.0 472.9h0M158.1 437.0h0M122.7 481.8h0M150.6 525.1h0M69.7 526.9h0M58.3 494.0h0M115.3 434.6h0M56.2 461.5h0M40.8 474.2h0M81.2 456.8h0M96.7 536.8h0M131.6 488.5h0M163.5 464.2h0M172.7 480.7h0M82.2 439.1h0M152.4 453.5h0M108.2 464.0h0M93.1 520.3h0M53.4 424.0h0M155.9 454.5h0M119.4 519.9h0M72.8 493.7h0M42.1 449.6h0M105.8 453.5h0M70.3 526.1h0M64.6 523.5h0M96.9 532.4h0M142.7 449.6h0M105.7 451.7h0M64.2 449.7h0M119.7 473.2h0M121.1 500.7h0M153.8 475.2h0M170.1 509.0h0M37.5 472.3h0M87.2 433.2h0M70.2 509.6h0M75.6 517.0h0M41.5 471.4h0M68.0 445.4h0M124.6 424.6h0M94.4 498.0h0M69.3 516.8h0M61.3 454.7h0M90.6 462.4h0M64.8 480.0h0M52.6 502.1h0M49.8 522.7h0M145.7 495.2h0M112.9 499.7h0M77.2 445.9h0M117.7 462.6h0M154.5 501.0h0M132.7 444.4h0M52.1 525.9h0M73.4 443.9h0M158.3 471.3h0M138.9 491.7h0M46.2 519.5h0M109.2 489.6h0M154.3 457.6h0M77.1 508.2h0M119.5 458.9h0M144.3 445.1h0M61.0 529.1h0M52.4 511.2h0M71.4 511.8h0M145.8 480.5h0M51.7 497.0h0M70.8 536.6h0M88.8 531.2h0M135.0 509.8h0M94.9 425.8h0M35.9 453.4h0M84.9 481.3h0M44.9 529.0h0M34.4 525.9h0M123.3 468.5h0M76.9 453.9h0M118.1 518.9h0M147.8 456.9h0M46.2 509.1h0M136.9 480.4h0M50.4 490.8h0M63.2 492.2h0M158.6 468.1h0M149.2 465.2h0M79.3 446.0h0M61.0 489.3h0M83.5 520.3h0M106.7 498.6h0M60.4 531.6h0M111.5 479.0h0M75.9 430.4h0M173.3 465.0h0M143.3 453.3h0M148.3 489.2h0M145.1 516.6h0M75.0 517.1h0M115.6 423.1h0M126.4 470.9h0M125.1 502.4h0M108.5 503.7h0M162.1 452.3h0M59.8 506.1h0M134.5 517.1h0M147.3 502.8h0M150.1 492.6h0M111.3 434.4h0M166.4 460.7h0M158.0 500.8h0M62.3 440.2h0M108.7 430.3h0M101.5 438.7h0M85.4 517.4h0M80.5 518.6h0M107.1 495.5h0M133.9 427.9h0M86.4 436.8h0M141.5 442.7h0M71.7 501.3h0M68.4 481.7h0M72.2 483.2h0M58.7 480.3h0" stroke="#676c9a" stroke-width="2.8" stroke-linecap="round" stroke-opacity="0.72" fill="none"/><path d="M98.6 474.0h0M171.6 447.1h0M43.2 532.4h0M95.5 433.3h0M175.0 501.1h0M77.1 439.2h0M40.7 426.7h0M154.4 515.7h0M98.0 484.4h0M77.1 480.9h0M153.4 462.2h0M122.9 437.2h0M122.7 433.8h0M117.3 466.6h0M154.2 454.1h0M141.3 490.5h0M114.6 507.1h0M72.5 496.8h0M99.6 525.0h0M112.3 487.4h0M109.7 473.9h0M66.6 526.7h0M105.6 426.7h0M109.7 463.4h0M166.5 529.2h0M131.0 506.2h0M141.6 497.5h0M128.6 429.7h0M161.6 533.6h0M54.1 492.2h0M65.0 425.2h0M154.6 489.5h0M171.8 439.4h0M58.9 472.5h0M71.0 499.5h0M70.7 441.8h0M134.9 498.5h0M161.4 509.1h0M139.9 498.4h0M57.8 465.4h0M140.6 457.0h0M44.6 490.8h0M171.0 441.7h0M54.6 526.7h0M85.1 511.0h0M80.8 471.0h0M78.9 486.4h0M146.8 476.1h0M112.9 475.0h0M39.5 469.5h0M119.2 495.2h0M150.6 455.7h0M110.3 448.4h0M140.3 444.3h0M109.6 478.2h0M42.2 531.6h0M45.5 529.2h0M138.0 451.8h0M66.0 450.7h0M42.4 514.5h0M55.4 488.7h0M46.6 471.4h0M98.6 505.6h0M175.8 498.9h0M96.3 442.4h0M77.4 438.6h0M105.5 437.4h0M168.8 504.9h0M166.7 479.0h0M159.5 472.6h0M50.2 513.1h0M91.0 527.9h0M67.6 455.1h0M86.3 458.8h0M97.4 523.1h0M152.2 471.1h0M98.2 535.6h0M57.8 476.1h0M72.2 452.5h0M87.1 503.6h0M36.2 450.0h0M142.5 448.2h0M103.8 481.3h0M129.0 484.4h0M67.3 442.0h0M35.6 490.3h0M51.0 449.7h0M134.8 437.7h0M135.8 504.3h0M171.2 472.8h0M51.0 523.8h0M101.6 464.4h0M96.1 505.4h0M157.1 519.3h0M140.5 441.8h0M153.4 463.0h0M64.0 516.8h0M35.0 470.8h0M50.0 467.1h0M146.9 430.5h0M97.6 425.2h0M73.5 511.7h0M71.9 461.3h0M61.7 423.3h0M66.4 451.3h0M70.3 484.7h0M37.9 524.6h0M59.8 496.2h0M140.1 465.3h0M109.9 431.5h0M72.3 505.0h0M97.5 520.8h0M72.8 473.3h0M102.5 480.2h0M55.0 474.9h0M114.6 501.6h0M113.5 469.2h0M98.4 464.6h0M168.7 464.1h0M127.6 422.6h0M77.0 428.0h0M35.6 470.1h0M174.2 463.0h0M161.7 481.0h0M73.3 498.6h0M66.7 531.9h0M99.9 529.1h0M96.1 528.3h0M41.5 439.2h0M82.2 428.6h0M80.3 526.0h0M60.1 470.7h0M108.9 452.2h0M35.0 424.1h0M143.0 450.0h0M39.8 517.3h0M136.3 471.4h0M149.9 458.6h0M50.4 527.5h0M94.6 511.0h0M93.9 529.2h0M172.1 486.4h0M174.0 436.1h0M38.4 431.0h0M120.4 489.3h0M169.5 494.0h0M52.8 527.1h0M63.6 470.4h0M79.8 476.2h0M69.1 435.6h0M135.2 500.0h0M127.4 518.2h0M60.0 426.9h0M134.8 453.4h0M116.4 494.5h0M128.9 466.0h0M80.1 506.7h0M140.1 480.4h0M159.3 466.2h0M104.3 497.0h0M122.8 430.5h0M59.3 487.5h0M151.5 520.4h0M44.0 535.3h0M156.8 469.1h0M110.9 484.7h0M117.4 441.3h0M81.2 471.3h0M106.5 495.2h0M114.8 490.1h0M83.9 514.1h0M75.2 448.7h0M100.5 503.7h0M51.3 466.9h0M54.3 436.0h0M152.6 462.1h0M39.8 444.2h0M125.2 437.3h0M114.8 429.5h0M56.6 492.5h0M115.6 461.2h0M102.3 510.9h0M134.2 481.4h0M90.8 484.9h0M146.2 476.5h0M143.5 455.8h0M141.5 465.0h0M110.2 430.8h0M174.1 450.6h0M34.8 457.4h0M78.4 530.5h0M76.3 437.8h0M131.3 475.6h0M73.2 464.7h0M65.9 498.0h0M60.1 510.8h0M66.9 437.6h0M73.9 481.7h0M54.9 519.6h0M79.5 454.9h0M101.6 427.4h0M78.4 434.8h0M137.3 465.6h0M125.9 449.6h0M118.0 462.8h0M150.2 447.8h0M162.9 458.6h0M161.3 455.4h0M135.1 491.8h0M126.3 522.3h0M109.3 447.3h0M107.8 472.4h0M46.1 534.8h0M102.2 462.1h0M144.8 529.9h0M167.1 464.2h0M83.4 455.0h0M106.0 448.2h0M36.7 481.0h0M45.1 474.3h0M46.4 497.6h0M76.8 445.1h0M94.0 468.8h0M132.0 473.0h0M101.8 437.3h0M92.5 444.1h0M132.1 494.4h0M159.5 478.1h0M80.0 466.3h0M154.3 471.2h0M84.5 449.4h0M162.5 472.2h0M157.6 475.4h0M93.2 431.3h0M126.3 432.6h0M42.6 423.6h0M66.0 508.6h0M105.7 528.7h0M77.7 511.1h0M126.5 502.2h0M92.3 434.7h0M78.2 515.4h0M171.6 460.3h0M79.6 477.6h0M141.2 496.6h0M80.8 517.9h0M153.1 467.5h0M116.8 462.9h0M37.6 529.6h0M122.2 489.2h0M59.0 452.5h0M162.9 497.0h0M36.5 445.4h0M122.8 436.8h0M143.6 454.3h0M72.4 521.4h0M109.0 470.7h0M143.4 509.2h0M121.2 461.3h0M76.6 429.7h0M85.2 521.4h0M114.0 498.4h0M132.8 483.4h0M83.6 496.1h0M145.0 471.9h0M157.4 482.9h0M134.2 481.7h0M166.6 479.2h0M49.0 526.0h0M37.7 423.2h0M68.5 477.6h0M123.5 427.1h0M46.0 521.5h0M165.5 471.5h0M42.7 451.3h0M89.2 461.0h0M155.9 465.6h0M75.5 452.6h0M46.7 430.7h0M100.9 469.1h0M160.5 464.6h0M52.3 524.2h0M89.5 435.2h0M141.0 489.2h0M144.4 477.7h0M56.6 500.4h0M62.1 448.3h0M124.4 479.1h0M144.9 503.6h0M80.0 534.4h0M57.3 515.1h0M93.8 432.9h0M110.4 516.5h0M167.3 448.3h0M114.2 464.3h0M95.1 449.6h0M70.3 444.0h0M61.6 518.5h0M54.4 502.6h0M77.7 485.8h0M148.7 470.1h0M161.4 467.5h0M113.3 508.4h0M101.9 464.4h0M132.4 527.2h0M77.9 501.7h0M34.2 436.9h0M125.7 425.8h0M141.5 427.4h0M58.7 480.3h0M103.4 462.0h0M159.1 535.8h0M101.8 462.8h0M101.1 525.4h0M149.7 518.8h0M105.7 431.6h0" stroke="#52588a" stroke-width="2.8" stroke-linecap="round" stroke-opacity="0.72" fill="none"/><path d="M175.0 486.5h0M57.4 477.8h0M82.3 520.2h0M147.8 444.0h0M50.7 431.3h0M144.4 503.8h0M135.4 445.5h0M64.3 484.3h0M81.5 492.3h0M143.6 525.5h0M47.5 480.3h0M110.1 477.8h0M127.1 432.6h0M71.2 513.9h0M124.0 480.5h0M101.1 480.9h0M69.5 530.2h0M55.4 445.9h0M162.2 490.1h0M65.8 523.9h0M64.4 432.6h0M93.4 478.3h0M56.9 472.7h0M72.7 437.7h0M46.3 520.7h0M66.2 423.1h0M109.8 501.4h0M137.8 451.4h0M68.4 468.9h0M147.3 467.0h0M168.2 464.9h0M97.2 517.1h0M74.2 455.4h0M72.2 483.3h0M39.6 459.0h0M103.4 470.6h0M34.6 436.1h0M164.4 479.7h0M157.4 451.4h0M108.8 470.1h0M67.1 472.7h0M76.4 434.7h0M169.1 518.3h0M169.9 530.0h0M40.7 460.3h0M175.7 425.1h0M146.5 452.2h0M127.4 476.4h0M38.7 471.7h0M95.4 446.2h0M159.1 441.0h0M61.2 522.7h0M119.1 449.1h0M65.4 512.4h0M161.6 535.7h0M39.7 515.2h0M130.4 516.2h0M107.6 518.9h0M143.5 464.5h0M93.8 525.6h0M165.8 474.4h0M101.3 505.5h0M54.4 458.3h0M114.1 522.2h0M54.7 434.2h0M128.5 424.9h0M62.5 427.7h0M114.5 510.3h0M136.6 434.4h0M38.7 513.7h0M99.8 524.6h0M119.8 466.5h0M153.9 446.7h0M168.6 535.2h0M103.1 440.8h0M63.1 491.3h0M154.3 464.2h0M154.4 505.5h0M51.0 437.1h0M104.6 524.8h0M147.6 515.0h0M172.9 439.2h0M135.9 445.1h0M51.3 428.1h0M71.1 476.7h0M78.8 457.6h0M152.4 463.6h0M66.4 440.1h0M149.6 497.9h0M78.8 457.0h0M104.0 436.2h0M94.1 426.8h0M95.0 444.3h0M129.1 536.8h0M70.5 425.7h0M68.1 470.6h0M73.8 440.9h0M168.6 505.3h0M114.6 507.2h0M128.1 519.5h0M148.0 525.1h0M57.6 422.9h0M164.9 466.0h0M97.1 452.2h0M87.5 514.9h0M110.5 534.7h0M169.4 427.6h0M89.5 536.7h0M108.9 507.2h0M156.1 464.8h0M161.6 535.7h0M172.4 434.5h0M117.1 450.1h0M79.3 499.5h0M94.8 498.7h0M45.8 478.7h0M68.0 453.0h0M57.1 532.4h0M63.7 505.2h0M100.3 453.1h0M139.2 458.2h0M142.6 502.2h0M164.3 450.0h0M123.0 458.7h0M77.3 469.3h0M148.5 490.7h0M156.9 466.8h0M48.5 483.9h0M39.0 479.1h0M129.1 525.3h0M100.0 440.7h0M85.1 463.3h0M90.5 495.2h0M175.4 502.8h0M137.3 500.7h0M156.8 508.8h0M89.4 518.3h0M104.7 462.0h0M92.2 520.4h0M105.6 441.9h0M102.1 516.8h0M115.7 462.1h0M168.6 474.1h0M40.4 428.5h0M93.8 529.4h0M160.2 488.0h0M79.4 425.0h0M101.0 525.4h0M132.8 424.8h0M46.5 438.4h0M156.5 480.6h0M134.7 484.0h0M35.2 433.1h0M74.2 446.4h0M116.8 423.8h0M56.5 509.7h0M75.1 489.3h0M98.8 469.4h0M114.8 533.6h0M138.4 459.6h0M89.9 523.2h0M40.4 484.9h0M120.0 475.9h0M135.7 450.6h0M59.3 428.7h0M129.9 467.6h0M66.8 451.7h0M167.3 438.1h0M170.4 484.7h0M141.7 462.2h0M138.1 451.0h0M60.3 534.2h0M105.0 529.6h0M97.1 485.9h0M97.2 427.9h0M121.5 490.0h0M107.9 453.7h0M106.2 502.7h0M67.1 431.7h0M87.3 513.5h0M120.8 439.3h0M50.1 496.2h0M95.8 516.9h0M93.1 513.6h0M68.6 536.8h0M73.5 499.9h0M139.9 427.0h0M105.0 525.2h0M115.7 496.4h0M154.4 448.1h0M44.7 474.8h0M161.7 461.9h0M133.3 427.4h0M95.5 529.8h0M41.5 446.6h0M162.5 445.0h0M124.5 473.5h0M50.3 526.7h0M98.0 432.2h0M144.8 521.9h0M128.3 478.5h0M81.9 515.6h0M104.0 462.8h0M156.3 442.6h0M112.0 433.4h0M63.5 441.7h0M140.5 472.8h0M79.8 483.8h0M73.2 470.9h0M82.3 428.5h0M38.0 470.5h0M93.4 503.0h0M35.4 439.1h0M88.1 465.6h0M81.7 444.2h0M49.9 425.0h0M125.8 523.3h0M120.0 512.4h0M110.6 439.1h0M137.2 456.8h0M63.7 434.5h0M44.1 504.3h0M136.2 500.8h0M132.7 436.2h0M123.1 503.1h0M122.6 461.6h0M100.4 532.4h0M40.0 429.9h0M47.3 509.9h0M83.1 469.0h0M110.6 470.0h0M116.2 474.3h0M51.0 474.3h0M84.6 526.6h0M73.3 476.5h0M41.4 515.0h0M174.7 494.8h0M161.9 438.5h0M86.3 454.4h0M174.6 443.9h0M127.1 468.4h0M133.5 501.9h0" stroke="#484d7c" stroke-width="2.8" stroke-linecap="round" stroke-opacity="0.75" fill="none"/></g><g filter="url(#blur1)" opacity="0.85"><ellipse cx="46" cy="456.5" rx="22.7" ry="3.5" fill="#f6f1ec" fill-opacity="0.95" stroke="#c39a7c" stroke-width="1.2" stroke-opacity="0.7" transform="rotate(-82.4 46 456.5)"/><ellipse cx="58.5" cy="446" rx="8.7" ry="3" fill="#f6f1ec" fill-opacity="0.95" stroke="#c39a7c" stroke-width="1.2" stroke-opacity="0.7" transform="rotate(-66.4 58.5 446)"/><ellipse cx="156" cy="428" rx="11" ry="10" fill="#f4efea" fill-opacity="0.97" stroke="#c39a7c" stroke-width="1.2" stroke-opacity="0.7" transform="rotate(0 156 428)"/><ellipse cx="169" cy="454" rx="8" ry="6" fill="#f6f1ec" fill-opacity="0.95" stroke="#c39a7c" stroke-width="1.2" stroke-opacity="0.7" transform="rotate(0 169 454)"/><ellipse cx="91" cy="449" rx="15.1" ry="2.5" fill="#eee6de" fill-opacity="0.8" stroke="#c39a7c" stroke-width="1.2" stroke-opacity="0.7" transform="rotate(82.4 91 449)"/><ellipse cx="122.5" cy="494.5" rx="12.7" ry="2.5" fill="#f6f1ec" fill-opacity="0.9" stroke="#c39a7c" stroke-width="1.2" stroke-opacity="0.7" transform="rotate(48.2 122.5 494.5)"/><ellipse cx="141.5" cy="513.5" rx="34.7" ry="1.5" fill="#eee6de" fill-opacity="0.8" transform="rotate(-5.8 141.5 513.5)"/><ellipse cx="134" cy="530" rx="8" ry="3" fill="#f6f1ec" fill-opacity="0.9" stroke="#c39a7c" stroke-width="1.2" stroke-opacity="0.7" transform="rotate(0 134 530)"/><ellipse cx="149" cy="532" rx="4" ry="3" fill="#f6f1ec" fill-opacity="0.9" stroke="#c39a7c" stroke-width="1.2" stroke-opacity="0.7" transform="rotate(0 149 532)"/><ellipse cx="37" cy="502" rx="4" ry="10" fill="#eee6de" fill-opacity="0.8" stroke="#c39a7c" stroke-width="1.2" stroke-opacity="0.7" transform="rotate(0 37 502)"/></g></g>
<g clip-path="url(#ck4)"><rect x="183" y="422" width="143" height="115" fill="#c68a60"/><rect x="183" y="422" width="143" height="115" filter="url(#tx2)" opacity="0.75"/><rect x="183" y="422" width="143" height="115" filter="url(#hfL)" opacity="0.45"/><rect x="183" y="422" width="143" height="115" filter="url(#hfD)" opacity="1"/><rect x="144.5" y="369.5" width="220" height="220" filter="url(#hfS)" opacity="0.6" transform="rotate(-40 254.5 479.5)"/><g filter="url(#blur1)"><path transform="translate(183,422)" d="M8.4 45.7l2.4 -5.5M86.3 36.6l4.1 -9.1M130.0 78.5l7.1 -8.1M22.4 68.2l6.2 -12.0M16.6 58.3l4.3 -5.9M35.9 0.7l7.5 -5.7M78.5 21.0l2.6 -6.0M146.5 90.3l8.0 -9.0M125.2 8.8l11.0 -8.3M40.3 86.3l6.7 -6.3M33.5 19.6l7.6 -13.9M31.7 27.3l5.2 -9.8M1.6 39.3l3.7 -9.9M145.8 9.2l9.5 -5.8M116.2 106.1l11.3 -10.5M79.4 66.1l7.4 -4.7M66.6 83.9l3.1 -7.2M79.4 117.6l5.2 -8.9M57.5 117.6l4.9 -6.7M101.2 26.4l5.1 -9.4M119.9 7.0l4.4 -5.9M111.3 94.1l9.3 -12.2M11.8 59.3l8.4 -10.5M98.9 53.7l9.4 -6.2M54.5 60.7l9.3 -5.6M134.9 40.5l6.0 -8.6M11.6 47.8l6.8 -9.8M73.4 13.8l11.2 -10.1M-2.8 33.2l10.8 -7.4M84.6 4.7l4.1 -10.5M16.7 26.2l6.8 -10.3M13.9 56.2l6.6 -11.5M116.1 -4.4l3.9 -10.3M103.8 23.2l11.9 -9.2M55.4 -2.9l6.3 -3.9M69.0 101.5l7.7 -13.0M99.2 61.9l6.6 -9.7M60.0 117.4l8.5 -10.0M57.3 46.2l7.7 -7.1M90.1 89.4l6.2 -12.6M109.7 69.0l8.3 -6.7M145.6 68.6l3.5 -8.0M85.9 22.5l9.9 -5.9M128.2 14.3l5.6 -5.7M18.6 14.4l5.3 -6.5M72.5 25.6l4.7 -5.2M21.3 28.4l13.2 -7.7M-2.9 99.9l11.0 -6.6M101.2 34.0l7.5 -8.5M104.2 55.8l9.3 -7.0M94.4 66.9l8.8 -11.8M35.8 12.7l6.2 -9.7M116.7 54.1l4.2 -5.9M94.0 97.8l5.2 -11.8M109.1 72.7l8.8 -10.4M141.5 64.0l9.5 -5.8M82.3 85.3l10.9 -7.5M107.7 27.5l4.3 -7.8M93.5 91.6l8.7 -12.4M121.5 75.2l5.3 -4.8M146.7 0.2l8.0 -11.3M91.4 4.6l10.1 -9.6M22.8 51.1l10.1 -10.6M50.7 21.4l5.5 -14.7M144.9 76.6l4.6 -8.0M69.8 90.1l3.8 -7.5M140.0 -0.6l9.3 -6.8M47.3 72.0l2.8 -6.3M124.9 71.0l5.8 -9.1M119.6 57.8l8.0 -6.7M33.1 73.5l7.1 -4.8M133.4 8.4l7.4 -7.7M-0.8 21.5l3.1 -6.3M109.4 56.8l10.0 -5.9M44.3 92.8l6.1 -7.3M25.4 16.4l6.3 -8.0M62.5 99.4l3.9 -9.3M30.1 54.8l8.8 -5.1M42.2 -2.3l9.4 -7.3M104.4 83.8l8.2 -8.3" fill="none" stroke="#f0d6c0" stroke-width="1.3" stroke-opacity="0.6" stroke-linecap="round"/><ellipse cx="279.5" cy="474" rx="34.4" ry="4" fill="#aaa4c0" fill-opacity="0.65" transform="rotate(68.7 279.5 474)"/><ellipse cx="294" cy="521.5" rx="15.6" ry="4.5" fill="#a8a2c0" fill-opacity="0.65" transform="rotate(82.6 294 521.5)"/><ellipse cx="281" cy="475" rx="31.4" ry="1.2" fill="#efe2d6" fill-opacity="0.5" transform="rotate(67.5 281 475)"/><ellipse cx="318" cy="503" rx="10" ry="20" fill="#7a6f98" fill-opacity="0.5" transform="rotate(0 318 503)"/><ellipse cx="320" cy="526" rx="10" ry="12" fill="#ece3dd" fill-opacity="0.97" stroke="#c39a7c" stroke-width="1.2" stroke-opacity="0.7" transform="rotate(0 320 526)"/><ellipse cx="306" cy="477" rx="2" ry="2" fill="#f4eee8" fill-opacity="0.97" transform="rotate(0 306 477)"/><ellipse cx="293" cy="434" rx="10" ry="6" fill="#bd774c" fill-opacity="0.3" transform="rotate(0 293 434)"/></g><g filter="url(#soft)"><path d="M216.8 433.9h0M239.6 439.8h0M192.5 468.2h0M314.3 514.1h0M292.4 447.5h0M259.7 453.8h0M207.7 434.2h0M213.7 528.7h0M301.5 514.8h0M297.5 444.2h0M227.3 494.1h0M287.7 520.3h0M308.8 432.0h0M269.6 499.2h0M255.4 442.4h0M250.7 432.3h0M261.3 456.5h0M313.0 487.8h0M309.2 519.5h0M255.7 469.6h0M268.6 471.6h0M206.1 457.1h0M299.2 427.0h0M189.6 494.0h0M223.1 483.5h0M250.4 461.4h0M325.6 444.5h0M242.0 445.3h0M273.5 453.8h0M233.9 507.9h0M228.9 486.2h0M312.3 433.6h0M191.8 448.3h0M292.4 492.8h0M217.0 460.1h0M208.4 474.8h0M189.1 502.2h0M311.1 531.8h0M288.1 532.4h0M185.6 455.2h0M321.1 511.2h0M241.7 530.5h0M271.7 516.1h0M225.0 444.0h0M246.5 437.7h0M237.6 532.6h0M230.4 423.1h0M189.4 441.5h0M295.1 463.7h0M224.5 433.2h0M323.4 470.8h0M212.7 428.8h0M190.9 441.4h0M279.8 439.2h0M188.8 478.4h0M218.6 536.7h0M200.5 482.9h0M293.7 469.1h0M324.2 476.9h0M217.6 469.2h0M188.3 470.4h0M218.5 524.3h0M301.8 479.3h0M187.5 451.3h0M217.7 445.9h0M216.1 522.0h0M203.3 427.9h0M315.7 487.0h0M324.7 468.3h0M311.8 497.2h0M296.1 507.6h0M253.7 432.7h0M213.2 522.5h0M311.7 528.3h0M231.1 497.5h0M297.3 495.9h0M299.5 482.7h0M276.6 500.9h0M221.4 528.1h0M319.7 430.6h0M278.6 427.1h0M311.6 436.7h0M321.5 498.7h0M191.6 441.2h0M273.8 487.5h0M289.7 528.7h0M214.3 422.4h0M314.9 423.5h0M308.3 435.3h0M298.8 512.0h0M308.5 485.3h0M308.7 445.2h0M279.0 460.0h0M310.5 511.0h0M250.4 482.5h0M186.8 425.9h0M268.0 478.2h0M306.7 491.9h0M202.8 463.7h0M292.8 482.1h0M184.5 518.3h0M301.3 431.8h0M260.7 465.8h0M295.6 457.8h0M216.4 478.0h0M321.2 432.9h0M199.4 493.4h0M309.6 480.9h0M245.1 520.7h0M294.1 429.7h0M309.0 444.5h0M226.2 518.2h0M243.4 513.8h0M206.9 522.5h0M208.2 439.2h0M253.7 460.9h0M260.5 526.0h0M284.6 422.6h0M227.6 484.7h0M252.6 504.3h0M252.2 430.7h0M218.1 519.5h0M234.0 510.2h0M324.0 494.1h0M279.8 492.1h0M227.8 527.0h0M249.8 526.8h0M226.7 521.8h0M295.5 492.5h0M246.2 438.2h0M293.3 463.7h0M277.7 437.3h0M194.8 438.6h0M298.7 442.4h0M312.0 464.8h0M265.4 462.3h0M271.8 432.7h0M240.6 529.7h0M208.7 497.2h0M229.7 456.6h0M186.3 424.3h0M297.6 514.8h0M319.3 440.2h0M266.5 479.0h0M265.1 529.9h0M291.7 533.4h0M199.7 496.9h0M279.6 507.7h0M271.4 517.6h0M226.3 528.7h0M241.1 490.9h0M311.3 502.9h0M227.3 448.5h0M229.7 494.1h0M240.2 468.1h0M299.9 454.6h0M241.9 423.5h0M209.3 484.1h0M282.1 492.7h0M235.1 531.4h0M272.1 439.9h0M192.7 534.0h0M269.3 457.9h0M196.1 451.7h0M214.8 528.7h0M310.6 511.5h0M204.3 449.4h0M225.8 531.0h0M206.4 512.9h0M280.3 484.9h0M320.2 452.2h0M258.0 440.1h0M196.8 425.7h0M228.3 436.0h0M191.8 536.1h0M224.3 524.4h0M283.4 506.1h0M276.7 531.6h0M308.6 504.7h0M263.1 501.8h0M286.5 485.5h0M254.9 439.7h0M303.7 477.7h0M192.7 441.3h0M308.1 451.4h0M239.0 500.4h0M306.2 459.8h0M238.3 470.7h0M187.0 522.8h0M185.7 532.4h0M204.8 440.0h0M304.3 516.7h0M216.2 485.7h0M251.2 504.6h0M209.5 516.9h0M325.5 503.2h0M237.3 519.5h0M302.2 489.5h0M198.3 493.2h0M313.4 457.1h0M275.5 525.2h0M268.8 426.3h0" stroke="#4f4c7c" stroke-width="2.5" stroke-linecap="round" stroke-opacity="0.82" fill="none"/><path d="M273.4 451.4h0M305.7 498.1h0M227.0 525.0h0M272.4 461.0h0M302.3 524.5h0M310.7 523.6h0M277.1 502.4h0M269.5 482.6h0M324.2 462.6h0M194.7 504.1h0M254.2 484.7h0M268.5 450.7h0M211.7 430.2h0M294.8 526.5h0M282.6 435.4h0M255.8 422.1h0M303.7 493.7h0M272.0 424.1h0M287.8 425.9h0M251.4 438.7h0M234.5 524.4h0M290.0 515.8h0M225.6 466.7h0M269.5 425.9h0M242.0 534.1h0M290.8 521.2h0M225.7 501.4h0M295.8 503.0h0M245.5 442.1h0M185.6 524.0h0M316.3 453.7h0M291.1 468.8h0M272.7 518.8h0M228.9 493.3h0M219.6 480.8h0M187.3 452.3h0M224.1 527.2h0M201.9 509.2h0M195.4 535.4h0M206.7 432.6h0M213.3 529.3h0M278.6 524.4h0M254.4 435.1h0M231.7 474.4h0M324.6 441.1h0M217.9 519.0h0M199.3 533.7h0M225.4 487.2h0M277.5 526.3h0M193.8 519.4h0M208.6 504.6h0M186.9 510.2h0M208.9 445.7h0M188.0 459.3h0M229.9 535.0h0M269.8 463.9h0M324.6 441.8h0M213.7 532.0h0M319.1 500.7h0M322.9 428.6h0M312.2 503.0h0M278.5 519.0h0M197.9 445.0h0M202.7 477.1h0M261.1 484.2h0M234.8 507.5h0M302.9 509.2h0M188.4 439.6h0M214.4 449.4h0M265.1 444.4h0M272.3 461.6h0M235.0 503.4h0M318.0 443.9h0M232.8 534.9h0M213.4 425.1h0M210.3 516.9h0M287.6 529.9h0M254.1 426.8h0M226.8 504.7h0M239.2 438.1h0M236.7 475.3h0M233.9 473.3h0M202.5 425.4h0M295.1 506.2h0M242.8 435.2h0M225.3 486.2h0M310.9 477.4h0M322.2 482.6h0M208.9 492.7h0M268.8 490.9h0M286.6 424.6h0M245.5 514.0h0M202.8 426.9h0M209.2 454.8h0M245.2 458.2h0M273.7 441.6h0M232.4 499.7h0M260.8 532.3h0M316.9 451.7h0M230.9 483.8h0M260.8 464.1h0M306.4 444.6h0M250.4 435.7h0M309.3 490.5h0M324.2 438.5h0M284.7 490.6h0M190.4 516.3h0M308.0 431.3h0M317.7 512.3h0M269.5 484.5h0M220.6 428.6h0M251.0 521.6h0M212.9 476.3h0M223.4 501.5h0M224.2 470.0h0M183.4 482.9h0M305.1 519.2h0M193.3 471.8h0M194.4 470.8h0M313.5 454.6h0M303.9 531.9h0M300.0 445.2h0M325.8 423.2h0M183.5 455.5h0M257.0 470.8h0M196.2 495.7h0M278.5 494.5h0M256.0 485.2h0M281.6 429.4h0M245.4 437.6h0M197.9 509.6h0M229.4 461.0h0M222.6 489.5h0M199.9 495.7h0M193.1 531.8h0M205.5 510.3h0M261.0 470.9h0M226.5 463.3h0M291.5 482.3h0M259.7 450.5h0M272.4 441.6h0M252.0 496.9h0M260.8 488.8h0M264.5 444.3h0M319.9 500.6h0M286.8 531.8h0M247.6 460.3h0M226.5 458.4h0M225.9 458.4h0M212.9 477.7h0M224.8 464.4h0M277.9 458.2h0M306.5 513.7h0M230.0 518.0h0M208.2 433.0h0M325.3 425.8h0M183.8 521.7h0M183.4 497.3h0M262.5 447.6h0M218.1 533.2h0M239.3 449.8h0M246.1 506.2h0M224.6 432.2h0M296.1 433.1h0M190.9 422.5h0M325.1 471.9h0M288.4 486.1h0M322.4 461.5h0M233.0 500.4h0M183.1 463.8h0M291.6 487.9h0M253.1 529.7h0M244.9 506.1h0M239.1 431.9h0M238.4 446.2h0M186.9 454.9h0M201.0 474.5h0M288.5 509.2h0M309.3 458.5h0M278.7 524.3h0M239.6 527.1h0M197.7 527.9h0M309.0 534.7h0M301.8 503.7h0M245.2 504.5h0M308.6 488.2h0M271.9 528.3h0M223.7 460.5h0M188.1 522.9h0M273.0 499.4h0M217.0 443.2h0M251.5 522.9h0M233.7 470.5h0M242.8 519.1h0M200.7 521.5h0M184.7 502.4h0M292.2 476.0h0M289.1 454.3h0M203.2 463.4h0M220.9 504.4h0M263.7 498.0h0M322.5 510.9h0M296.2 533.5h0M315.8 507.3h0M232.7 480.5h0" stroke="#5a5788" stroke-width="2.5" stroke-linecap="round" stroke-opacity="0.82" fill="none"/><path d="M291.1 512.5h0M311.7 507.4h0M278.6 451.2h0M271.9 443.5h0M275.5 442.2h0M185.5 531.9h0M307.4 457.1h0M189.4 516.1h0M293.3 439.8h0M299.8 518.4h0M265.1 453.5h0M191.1 429.3h0M246.1 505.0h0M274.3 447.9h0M297.1 429.3h0M270.8 442.0h0M183.8 444.3h0M296.8 447.3h0M185.0 477.5h0M232.9 488.0h0M265.6 503.4h0M313.9 460.9h0M273.8 435.6h0M218.9 433.1h0M306.3 460.8h0M284.6 522.9h0M238.0 445.8h0M218.5 478.3h0M238.4 430.1h0M304.6 495.5h0M307.7 519.2h0M286.7 516.8h0M283.6 471.2h0M300.1 527.6h0M198.4 438.6h0M207.3 474.4h0M306.6 482.6h0M305.3 464.1h0M263.9 450.4h0M274.5 453.1h0M184.1 467.8h0M263.6 523.3h0M224.0 528.6h0M299.1 440.1h0M294.3 529.6h0M320.6 501.6h0M238.8 484.5h0M276.1 492.5h0M210.0 523.7h0M260.3 430.2h0M226.8 431.3h0M248.9 432.8h0M258.7 454.0h0M301.3 510.4h0M209.8 515.3h0M266.2 453.0h0M313.3 422.7h0M240.1 490.9h0M206.3 478.5h0M309.4 461.5h0M284.3 443.9h0M206.6 509.9h0M230.7 425.7h0M213.2 505.8h0M249.5 482.9h0M201.3 441.7h0M235.2 481.1h0M300.3 473.7h0M229.9 527.1h0M281.7 508.9h0M298.2 477.7h0M220.2 434.9h0M277.0 508.1h0M255.0 478.2h0M321.0 431.9h0M236.6 484.7h0M269.0 492.3h0M205.6 480.4h0M208.2 466.2h0M208.6 458.8h0M272.6 467.9h0M207.0 475.9h0M278.8 456.6h0M221.9 472.2h0M282.5 426.2h0M279.2 428.3h0M310.3 444.0h0M300.9 425.9h0M253.5 451.5h0M294.0 510.7h0M201.1 427.9h0M287.4 470.2h0M236.3 462.1h0M235.5 488.3h0M238.5 436.8h0M250.4 535.7h0M292.6 504.6h0M315.6 473.1h0M234.8 513.2h0M197.7 510.2h0M204.2 493.7h0M256.5 510.8h0M192.0 499.2h0M301.3 426.5h0M280.8 454.2h0M289.4 534.5h0M183.4 468.8h0M254.4 534.8h0M315.2 425.3h0M202.5 468.9h0M298.0 512.8h0M262.5 528.0h0M300.3 523.0h0M273.7 451.8h0M288.0 504.4h0M315.7 441.7h0M186.2 461.2h0M219.6 466.5h0M191.5 492.2h0M244.1 452.5h0M197.5 488.0h0M197.2 520.9h0M222.6 525.3h0M200.7 466.8h0M294.3 482.0h0M247.0 523.3h0M206.5 519.9h0M256.6 454.8h0M233.0 454.0h0M273.5 472.7h0M257.1 496.7h0M305.9 502.3h0M225.3 498.6h0M282.0 526.4h0M238.2 483.2h0M291.2 460.5h0M229.6 493.4h0M236.4 519.4h0M232.6 447.3h0M270.2 490.8h0M243.3 473.6h0M276.2 480.0h0M267.0 468.1h0M306.0 524.6h0M296.0 508.2h0M310.0 451.4h0M317.7 445.2h0M197.5 478.9h0M205.6 451.4h0M269.6 439.1h0M239.9 464.2h0M317.9 431.0h0M255.9 475.8h0M206.2 461.9h0M235.0 463.2h0M262.6 486.0h0M249.7 472.6h0M270.1 477.7h0M200.9 497.5h0M241.5 520.1h0M201.9 484.8h0M225.9 494.7h0M300.0 496.7h0M264.8 529.1h0M215.3 536.5h0M245.8 494.8h0M201.6 425.5h0M205.8 484.5h0M217.4 513.4h0M205.1 498.2h0M311.7 501.7h0M315.0 516.7h0M305.7 426.6h0M256.0 456.4h0M245.7 505.8h0M287.5 445.5h0M207.4 430.0h0M288.8 516.6h0M196.2 437.7h0M202.7 535.9h0M193.2 488.2h0M308.3 441.6h0M280.7 461.0h0M274.7 475.9h0M204.3 525.2h0M254.5 534.9h0M268.1 532.3h0M276.6 428.6h0M183.7 536.1h0M278.2 513.0h0M302.9 463.5h0M283.9 496.4h0M191.6 484.0h0M316.0 486.0h0M295.5 429.7h0M242.4 480.2h0M262.4 519.3h0M253.1 487.1h0M257.1 499.5h0M265.9 467.5h0M223.8 521.3h0M233.7 504.0h0M221.8 535.6h0M213.9 470.3h0M235.7 522.9h0" stroke="#46436f" stroke-width="2.5" stroke-linecap="round" stroke-opacity="0.82" fill="none"/><path d="M263.2 440.9h0M298.9 521.9h0M291.8 516.9h0M296.7 519.0h0M321.4 509.0h0M303.1 523.3h0M289.7 495.5h0M273.8 463.3h0M320.3 506.2h0M269.7 447.3h0M282.2 486.7h0M325.8 501.1h0M291.0 498.4h0M295.5 522.8h0M258.8 433.6h0M280.2 473.2h0M310.9 487.4h0M298.8 535.0h0M311.8 499.7h0M321.5 501.1h0M310.7 482.7h0M303.3 536.4h0M325.1 513.2h0M307.3 482.5h0M325.9 486.0h0M263.3 446.8h0M311.3 490.0h0M316.8 507.3h0M292.4 504.2h0M293.6 522.1h0M288.9 498.7h0M311.4 519.8h0M304.7 529.5h0M292.9 519.2h0M321.9 483.8h0M316.7 492.4h0M265.4 426.4h0M278.0 458.0h0M317.8 503.6h0M311.5 483.0h0M318.3 484.2h0M293.7 497.3h0M261.6 422.1h0M265.8 428.0h0M280.1 463.7h0M259.4 436.3h0M288.0 492.9h0M314.2 487.5h0M261.5 433.8h0M283.6 471.1h0M323.1 507.9h0M287.2 479.6h0M274.9 465.8h0M291.7 505.2h0M315.3 517.3h0M289.3 513.5h0M260.6 431.7h0M310.0 485.6h0M283.9 487.9h0M265.5 435.1h0M312.7 520.8h0M286.4 502.1h0M269.4 446.5h0M273.3 446.4h0M261.5 433.4h0M280.0 462.2h0M298.2 530.7h0M315.3 506.2h0M293.2 521.7h0M282.7 481.8h0M282.6 484.3h0M312.2 482.6h0M265.2 450.4h0M268.0 435.4h0M285.5 489.2h0M274.2 461.1h0M307.0 506.0h0M307.1 523.0h0M286.3 503.8h0M280.7 480.0h0M259.4 435.8h0M285.6 483.2h0M309.7 492.9h0M277.5 476.3h0M304.5 534.4h0M263.3 433.3h0M275.4 451.8h0M272.0 439.9h0M281.7 487.8h0M288.6 495.9h0M269.8 460.9h0M269.5 445.9h0M267.8 433.4h0M309.7 504.8h0M302.5 525.9h0M261.9 431.5h0M265.1 451.5h0M262.1 442.2h0M291.8 490.8h0M276.3 465.3h0M262.0 428.3h0M291.7 512.8h0M299.4 529.9h0M295.7 527.4h0M291.2 493.4h0M280.9 486.9h0M288.3 491.6h0M288.6 489.7h0M277.8 467.1h0M276.5 459.1h0M312.0 492.2h0M285.7 491.3h0M299.6 514.7h0M293.3 521.9h0M310.5 514.0h0M310.5 522.3h0" stroke="#3a3864" stroke-width="1.8" stroke-linecap="round" stroke-opacity="0.85" fill="none"/></g><g filter="url(#blur1)" opacity="0.85"><ellipse cx="320" cy="526" rx="10" ry="12" fill="#ece3dd" fill-opacity="0.97" stroke="#c39a7c" stroke-width="1.2" stroke-opacity="0.7" transform="rotate(0 320 526)"/><ellipse cx="306" cy="477" rx="2" ry="2" fill="#f4eee8" fill-opacity="0.97" transform="rotate(0 306 477)"/></g></g>
<rect x="92.4" y="99.8" width="32.1" height="25.4" fill="none" stroke="#1e1e1e" stroke-width="1.2"/><line x1="92.4" y1="125.2" x2="35" y2="147" stroke="#1e1e1e" stroke-width="1.1"/><line x1="124.5" y1="125.2" x2="177" y2="147" stroke="#1e1e1e" stroke-width="1.1"/>
<rect x="267.5" y="74.3" width="31.8" height="25.1" fill="none" stroke="#1e1e1e" stroke-width="1.2"/><line x1="267.5" y1="99.4" x2="183" y2="147" stroke="#1e1e1e" stroke-width="1.1"/><line x1="299.3" y1="99.4" x2="326" y2="147" stroke="#1e1e1e" stroke-width="1.1"/>
<rect x="91.4" y="376.1" width="32.2" height="25.3" fill="none" stroke="#1e1e1e" stroke-width="1.2"/><line x1="91.4" y1="401.4" x2="34" y2="422" stroke="#1e1e1e" stroke-width="1.1"/><line x1="123.6" y1="401.4" x2="176" y2="422" stroke="#1e1e1e" stroke-width="1.1"/>
<rect x="266.5" y="350.3" width="31.9" height="26.1" fill="none" stroke="#1e1e1e" stroke-width="1.2"/><line x1="266.5" y1="376.4" x2="183" y2="422" stroke="#1e1e1e" stroke-width="1.1"/><line x1="298.4" y1="376.4" x2="326" y2="422" stroke="#1e1e1e" stroke-width="1.1"/>
<text x="0.2" y="13.6" text-anchor="start" style="font-size:17px;font-weight:bold;font-style:normal" fill="#111">A</text>
<text x="64.1" y="9.3" text-anchor="start" style="font-size:12.3px;font-weight:bold;font-style:normal" fill="#111">Hepatocellular</text>
<text x="64.1" y="23.7" text-anchor="start" style="font-size:12.3px;font-weight:bold;font-style:normal" fill="#111">carcinoma</text>
<text x="226" y="23.8" text-anchor="start" style="font-size:12.3px;font-weight:bold;font-style:normal" fill="#111">Normal</text>
<text x="64" y="284" text-anchor="start" style="font-size:12.3px;font-weight:bold;font-style:normal" fill="#111">Hepatocellular</text>
<text x="64" y="298.5" text-anchor="start" style="font-size:12.3px;font-weight:bold;font-style:normal" fill="#111">carcinoma</text>
<text x="225.7" y="296.6" text-anchor="start" style="font-size:12.3px;font-weight:bold;font-style:normal" fill="#111">Normal</text>
<line x1="15" y1="79" x2="15" y2="216.3" stroke="#333" stroke-width="1.4"/>
<line x1="14.6" y1="354.2" x2="14.6" y2="491.4" stroke="#222" stroke-width="1.4"/>
<text transform="translate(10,145.3) rotate(-90) scale(1.0,1)" text-anchor="middle" style="font-size:12.3px;font-weight:bold;font-style:normal" fill="#111">DUB3</text>
<text transform="translate(30.4,88.8) rotate(-90) scale(1.0,1)" text-anchor="middle" style="font-size:12.3px;font-weight:bold;font-style:normal" fill="#111">40X</text>
<text transform="translate(30.6,201.6) rotate(-90) scale(1.0,1)" text-anchor="middle" style="font-size:12.3px;font-weight:bold;font-style:normal" fill="#111">200X</text>
<text transform="translate(10,422.1) rotate(-90) scale(1.0,1)" text-anchor="middle" style="font-size:12.3px;font-weight:bold;font-style:normal" fill="#111">KLF4</text>
<text transform="translate(27.9,364) rotate(-90) scale(1.0,1)" text-anchor="middle" style="font-size:12.3px;font-weight:bold;font-style:normal" fill="#111">40X</text>
<text transform="translate(28.1,477) rotate(-90) scale(1.0,1)" text-anchor="middle" style="font-size:12.3px;font-weight:bold;font-style:normal" fill="#111">200X</text>
<text x="347.4" y="13.8" text-anchor="start" style="font-size:17px;font-weight:bold;font-style:normal" fill="#111">B</text>
<line x1="358.2" y1="28.5" x2="684" y2="28.5" stroke="#1a1a1a" stroke-width="1.5"/>
<line x1="359" y1="68.5" x2="684" y2="68.5" stroke="#1a1a1a" stroke-width="1.5"/>
<line x1="358.6" y1="152.3" x2="684" y2="152.3" stroke="#1a1a1a" stroke-width="1.5"/>
<line x1="357" y1="196.4" x2="684" y2="196.4" stroke="#1a1a1a" stroke-width="1.5"/>
<line x1="357.8" y1="236.5" x2="684" y2="236.5" stroke="#1a1a1a" stroke-width="1.5"/>
<line x1="357.9" y1="320.4" x2="683.8" y2="320.4" stroke="#1a1a1a" stroke-width="1.5"/>
<line x1="354.7" y1="361.9" x2="680.8" y2="361.9" stroke="#4a4a4a" stroke-width="2.0"/>
<line x1="355.5" y1="402" x2="680.5" y2="402" stroke="#4a4a4a" stroke-width="2.0"/>
<line x1="355" y1="486.2" x2="680.5" y2="486.2" stroke="#4a4a4a" stroke-width="2.0"/>
<text x="391.4" y="55.8" text-anchor="start" style="font-size:12.3px;font-weight:bold;font-style:normal" fill="#111">DUB3</text>
<text x="467" y="55.8" text-anchor="start" style="font-size:12.3px;font-weight:bold;font-style:normal" fill="#111">High(%)</text>
<text x="545.7" y="55.8" text-anchor="start" style="font-size:12.3px;font-weight:bold;font-style:normal" fill="#111">Low(%)</text>
<text x="626" y="55.8" text-anchor="start" style="font-size:12.3px;font-weight:bold;font-style:normal" fill="#111">Total</text>
<text x="385.8" y="96.5" text-anchor="start" style="font-size:12.3px;font-weight:bold;font-style:normal" fill="#111">Normal</text>
<text x="467.7" y="96.5" text-anchor="start" style="font-size:12.3px;font-weight:bold;font-style:normal" fill="#111">112(75%)</text>
<text x="548.5" y="96.6" text-anchor="start" style="font-size:12.3px;font-weight:bold;font-style:normal" fill="#111">38(25%)</text>
<text x="638.4" y="96.6" text-anchor="start" style="font-size:12.3px;font-weight:bold;font-style:normal" fill="#111">150</text>
<text x="368.7" y="125.3" text-anchor="start" style="font-size:12.3px;font-weight:bold;font-style:normal" fill="#111">Hepatocellular</text>
<text x="368.7" y="139.3" text-anchor="start" style="font-size:12.3px;font-weight:bold;font-style:normal" fill="#111">carcinoma</text>
<text x="468" y="133.1" text-anchor="start" style="font-size:12.3px;font-weight:bold;font-style:normal" fill="#111">42(28%)</text>
<text x="544" y="133.3" text-anchor="start" style="font-size:12.3px;font-weight:bold;font-style:normal" fill="#111">108(72%)</text>
<text x="636.1" y="133.3" text-anchor="start" style="font-size:12.3px;font-weight:bold;font-style:normal" fill="#111">150</text>
<text x="390" y="223.8" text-anchor="start" style="font-size:12.3px;font-weight:bold;font-style:normal" fill="#111">KLF4</text>
<text x="463.6" y="224" text-anchor="start" style="font-size:12.3px;font-weight:bold;font-style:normal" fill="#111">High(%)</text>
<text x="541.8" y="224" text-anchor="start" style="font-size:12.3px;font-weight:bold;font-style:normal" fill="#111">Low(%)</text>
<text x="621.7" y="224" text-anchor="start" style="font-size:12.3px;font-weight:bold;font-style:normal" fill="#111">Total</text>
<text x="384.2" y="265" text-anchor="start" style="font-size:12.3px;font-weight:bold;font-style:normal" fill="#111">Normal</text>
<text x="462.4" y="265" text-anchor="start" style="font-size:12.3px;font-weight:bold;font-style:normal" fill="#111">106(71%)</text>
<text x="544" y="265" text-anchor="start" style="font-size:12.3px;font-weight:bold;font-style:normal" fill="#111">44(29%)</text>
<text x="634.1" y="265" text-anchor="start" style="font-size:12.3px;font-weight:bold;font-style:normal" fill="#111">150</text>
<text x="367.3" y="293.1" text-anchor="start" style="font-size:12.3px;font-weight:bold;font-style:normal" fill="#111">Hepatocellular</text>
<text x="367.3" y="308" text-anchor="start" style="font-size:12.3px;font-weight:bold;font-style:normal" fill="#111">carcinoma</text>
<text x="466.6" y="301" text-anchor="start" style="font-size:12.3px;font-weight:bold;font-style:normal" fill="#111">51(34%)</text>
<text x="541.8" y="301.5" text-anchor="start" style="font-size:12.3px;font-weight:bold;font-style:normal" fill="#111">99(66%)</text>
<text x="635" y="301.5" text-anchor="start" style="font-size:12.3px;font-weight:bold;font-style:normal" fill="#111">150</text>
<text x="457.5" y="389.4" text-anchor="start" style="font-size:12.3px;font-weight:bold;font-style:normal" fill="#111">DUB3 Low</text>
<text x="537.3" y="389.4" text-anchor="start" style="font-size:12.3px;font-weight:bold;font-style:normal" fill="#111">DUB3 High</text>
<text x="623.8" y="389.4" text-anchor="start" style="font-size:12.3px;font-weight:bold;font-style:normal" fill="#111">Total</text>
<text x="377.8" y="432.8" text-anchor="start" style="font-size:12.3px;font-weight:bold;font-style:normal" fill="#111">KLF4 Low</text>
<text x="482" y="432.8" text-anchor="start" style="font-size:12.3px;font-weight:bold;font-style:normal" fill="#111">86</text>
<text x="562.3" y="432.8" text-anchor="start" style="font-size:12.3px;font-weight:bold;font-style:normal" fill="#111">13</text>
<text x="631.9" y="432.8" text-anchor="start" style="font-size:12.3px;font-weight:bold;font-style:normal" fill="#111">99</text>
<text x="374.7" y="469.7" text-anchor="start" style="font-size:12.3px;font-weight:bold;font-style:normal" fill="#111">KLF4 High</text>
<text x="482.4" y="469.7" text-anchor="start" style="font-size:12.3px;font-weight:bold;font-style:normal" fill="#111">22</text>
<text x="562.9" y="470" text-anchor="start" style="font-size:12.3px;font-weight:bold;font-style:normal" fill="#111">29</text>
<text x="633" y="470" text-anchor="start" style="font-size:12.3px;font-weight:bold;font-style:normal" fill="#111">51</text>
<text x="363" y="173" text-anchor="start" style="font-size:12.3px;font-weight:bold;font-style:italic" fill="#111">P&lt;0.001</text>
<text x="361.1" y="341.2" text-anchor="start" style="font-size:12.3px;font-weight:bold;font-style:italic" fill="#111">P&lt;0.001</text>
<text x="358.7" y="507" text-anchor="start" style="font-size:12.3px;font-weight:bold;font-style:italic" fill="#111">P&lt;0.001, R=0.461</text>
<path d="M62.2,810.3V619.6H289V810.3" fill="none" stroke="#707070" stroke-width="1.5"/><line x1="61.5" y1="810.3" x2="289.7" y2="810.3" stroke="#383838" stroke-width="1.3"/><line x1="58.2" y1="800.5" x2="62.2" y2="800.5" stroke="#555" stroke-width="1.1"/><text transform="translate(56.9,804.2) scale(1.15,1)" text-anchor="end" style="font-size:10.4px;font-weight:bold;font-style:normal" fill="#111">0.0</text><line x1="58.2" y1="766.3" x2="62.2" y2="766.3" stroke="#555" stroke-width="1.1"/><text transform="translate(56.9,770) scale(1.15,1)" text-anchor="end" style="font-size:10.4px;font-weight:bold;font-style:normal" fill="#111">0.2</text><line x1="58.2" y1="732.1" x2="62.2" y2="732.1" stroke="#555" stroke-width="1.1"/><text transform="translate(56.9,735.8) scale(1.15,1)" text-anchor="end" style="font-size:10.4px;font-weight:bold;font-style:normal" fill="#111">0.4</text><line x1="58.2" y1="698" x2="62.2" y2="698" stroke="#555" stroke-width="1.1"/><text transform="translate(56.9,701.7) scale(1.15,1)" text-anchor="end" style="font-size:10.4px;font-weight:bold;font-style:normal" fill="#111">0.6</text><line x1="58.2" y1="663.8" x2="62.2" y2="663.8" stroke="#555" stroke-width="1.1"/><text transform="translate(56.9,667.5) scale(1.15,1)" text-anchor="end" style="font-size:10.4px;font-weight:bold;font-style:normal" fill="#111">0.8</text><line x1="58.2" y1="629.6" x2="62.2" y2="629.6" stroke="#555" stroke-width="1.1"/><text transform="translate(56.9,633.3) scale(1.15,1)" text-anchor="end" style="font-size:10.4px;font-weight:bold;font-style:normal" fill="#111">100</text><line x1="73.7" y1="810.3" x2="73.7" y2="814.1" stroke="#333" stroke-width="1.1"/><text transform="translate(73.7,823.1) scale(1.12,1)" text-anchor="middle" style="font-size:10.3px;font-weight:bold;font-style:normal" fill="#111">0</text><line x1="107.6" y1="810.3" x2="107.6" y2="814.1" stroke="#333" stroke-width="1.1"/><text transform="translate(107.6,823.1) scale(1.12,1)" text-anchor="middle" style="font-size:10.3px;font-weight:bold;font-style:normal" fill="#111">20</text><line x1="141.5" y1="810.3" x2="141.5" y2="814.1" stroke="#333" stroke-width="1.1"/><text transform="translate(141.5,823.1) scale(1.12,1)" text-anchor="middle" style="font-size:10.3px;font-weight:bold;font-style:normal" fill="#111">40</text><line x1="175.4" y1="810.3" x2="175.4" y2="814.1" stroke="#333" stroke-width="1.1"/><text transform="translate(175.4,823.1) scale(1.12,1)" text-anchor="middle" style="font-size:10.3px;font-weight:bold;font-style:normal" fill="#111">60</text><line x1="209.3" y1="810.3" x2="209.3" y2="814.1" stroke="#333" stroke-width="1.1"/><text transform="translate(209.3,823.1) scale(1.12,1)" text-anchor="middle" style="font-size:10.3px;font-weight:bold;font-style:normal" fill="#111">80</text><line x1="243.2" y1="810.3" x2="243.2" y2="814.1" stroke="#333" stroke-width="1.1"/><text transform="translate(243.2,823.1) scale(1.12,1)" text-anchor="middle" style="font-size:10.3px;font-weight:bold;font-style:normal" fill="#111">100</text><line x1="277.1" y1="810.3" x2="277.1" y2="814.1" stroke="#333" stroke-width="1.1"/><text transform="translate(277.1,823.1) scale(1.12,1)" text-anchor="middle" style="font-size:10.3px;font-weight:bold;font-style:normal" fill="#111">120</text><text transform="translate(172.9,837.5) scale(1.1,1)" text-anchor="middle" style="font-size:10.7px;font-weight:bold;font-style:normal" fill="#111">Time (months)</text><text transform="translate(32.8,718.4) rotate(-90) scale(0.884,1)" text-anchor="middle" style="font-size:12px;font-weight:bold;font-style:normal" fill="#111">Percentage of Overall Survival</text><text transform="translate(169.2,614) scale(1.2,1)" text-anchor="middle" style="font-size:12.9px;font-weight:bold;font-style:normal" fill="#111" stroke="#111" stroke-width="0.25">DUB3</text><text transform="translate(252.9,651.8) scale(1.08,1)" text-anchor="end" style="font-size:11.2px;font-weight:bold;font-style:italic" fill="#111" stroke="#111" stroke-width="0.15">P=0.02</text><path d="M97.3,634.2H98.3V638.2H99.5V642.4H105.7V647.2H108.5V651.4H111.4V660.1H114.4V664.5H117.5V668.5H118.8V672.9H125.6V677.4H129.1V681.4H129.6V686H141.9V690.4H159.7V694.8H163.9V699.4H176.6V704H182.5V708.6H195.3V716H237.3V716" fill="none" stroke="#4a5db0" stroke-width="1.2"/><path d="M97.5,632V636.4M140.4,683.8V688.2M172.6,697.2V701.6M178.4,701.8V706.2M183.7,706.4V710.8M187.8,706.4V710.8M193.6,706.4V710.8M200.9,713.8V718.2M204.9,713.8V718.2M207.5,713.8V718.2M211,713.8V718.2M213.5,713.8V718.2M215.4,713.8V718.2M219.8,713.8V718.2M224.6,713.8V718.2M225.9,713.8V718.2M236.4,713.8V718.2" stroke="#4a5db0" stroke-width="1.3" fill="none"/><path d="M93.9,634.2H97V634.2H97.4V641.4H99.2V643.1H100.5V650H101V655.4H104V655.8H104.5V658H105.8V663.3H107.5V666.8H111V669.4H111.9V672.9H114.5V674.7H115.4V680.8H117.2V686H118.5V688.3H120.3V688.8H123.8V693.1H126.4V696.6H128.6V700.3H133V700.3H133.8V706.3H138.6V708H140.8V709.8H141.3V714.2H143V718.1H148.3V718.5H150V722H152.7V727.3H156.2V729H162.7V730.4H163.6V737.4H178.3V737.4H178.8V739.5H179.6V741.2H186.2V741.2H187.1V743.8H190.6V746H192.3V748.6H194V751.3H195.4V752.6H198.9V752.6H199.3V755.7H213.4V755.7H213.8V764.2H252.8V764.2" fill="none" stroke="#3db14c" stroke-width="1.2"/><path d="M93.9,632V636.4M97.4,639.2V643.6M120.7,687V691.4M136,705.4V709.8M142.2,712.8V717.2M145.2,716.1V720.5M160.5,727.6V732M172.8,735.2V739.6M174.8,735.2V739.6M180.5,739V743.4M182.3,739V743.4M186.2,739V743.4M187.3,741.6V746M192.3,745.3V749.7M194,748.1V752.5M201.5,753.5V757.9M204.6,753.5V757.9M207.7,753.5V757.9M210.3,753.5V757.9M215.5,762V766.4M217.7,762V766.4M222.6,762V766.4M229.1,762V766.4M251.4,762V766.4" stroke="#3db14c" stroke-width="1.3" fill="none"/><path d="M75,763.1H85.4V758.4H95.6V762.9" fill="none" stroke="#4a5db0" stroke-width="1.3"/><path d="M75,775.4H85.4V771H95.6V775.4" fill="none" stroke="#3db14c" stroke-width="1.3"/><path d="M75,785.4H95.6M85.1,781.2V789.5" fill="none" stroke="#4a5db0" stroke-width="1.3"/><path d="M75,797.7H95.6M85.1,793.7V802" fill="none" stroke="#3db14c" stroke-width="1.3"/><text transform="translate(101.7,763.5) scale(1.03,1)" text-anchor="start" style="font-size:10.1px;font-weight:normal;font-style:normal" fill="#111" stroke="#111" stroke-width="0.1">DUB3 High</text><text transform="translate(101.7,776.5) scale(1.03,1)" text-anchor="start" style="font-size:10.1px;font-weight:normal;font-style:normal" fill="#111" stroke="#111" stroke-width="0.1">DUB3 Low</text><text transform="translate(101.7,789.4) scale(1.03,1)" text-anchor="start" style="font-size:10.1px;font-weight:normal;font-style:normal" fill="#111" stroke="#111" stroke-width="0.1">DUB3 High censored</text><text transform="translate(101.7,802.4) scale(1.03,1)" text-anchor="start" style="font-size:10.1px;font-weight:normal;font-style:normal" fill="#111" stroke="#111" stroke-width="0.1">DUB3 Low censored</text><text x="3.8" y="597.3" text-anchor="start" style="font-size:17px;font-weight:bold;font-style:normal" fill="#111">C</text>
<path d="M389.6,810.6V619.9H616.4V810.6" fill="none" stroke="#707070" stroke-width="1.5"/><line x1="388.9" y1="810.6" x2="617.1" y2="810.6" stroke="#383838" stroke-width="1.3"/><line x1="385.6" y1="800.8" x2="389.6" y2="800.8" stroke="#555" stroke-width="1.1"/><text transform="translate(384.3,804.5) scale(1.15,1)" text-anchor="end" style="font-size:10.4px;font-weight:bold;font-style:normal" fill="#111">0.0</text><line x1="385.6" y1="766.6" x2="389.6" y2="766.6" stroke="#555" stroke-width="1.1"/><text transform="translate(384.3,770.3) scale(1.15,1)" text-anchor="end" style="font-size:10.4px;font-weight:bold;font-style:normal" fill="#111">0.2</text><line x1="385.6" y1="732.4" x2="389.6" y2="732.4" stroke="#555" stroke-width="1.1"/><text transform="translate(384.3,736.1) scale(1.15,1)" text-anchor="end" style="font-size:10.4px;font-weight:bold;font-style:normal" fill="#111">0.4</text><line x1="385.6" y1="698.3" x2="389.6" y2="698.3" stroke="#555" stroke-width="1.1"/><text transform="translate(384.3,702) scale(1.15,1)" text-anchor="end" style="font-size:10.4px;font-weight:bold;font-style:normal" fill="#111">0.6</text><line x1="385.6" y1="664.1" x2="389.6" y2="664.1" stroke="#555" stroke-width="1.1"/><text transform="translate(384.3,667.8) scale(1.15,1)" text-anchor="end" style="font-size:10.4px;font-weight:bold;font-style:normal" fill="#111">0.8</text><line x1="385.6" y1="629.9" x2="389.6" y2="629.9" stroke="#555" stroke-width="1.1"/><text transform="translate(384.3,633.6) scale(1.15,1)" text-anchor="end" style="font-size:10.4px;font-weight:bold;font-style:normal" fill="#111">100</text><line x1="401.1" y1="810.6" x2="401.1" y2="814.4" stroke="#333" stroke-width="1.1"/><text transform="translate(401.1,823.4) scale(1.12,1)" text-anchor="middle" style="font-size:10.3px;font-weight:bold;font-style:normal" fill="#111">0</text><line x1="435" y1="810.6" x2="435" y2="814.4" stroke="#333" stroke-width="1.1"/><text transform="translate(435,823.4) scale(1.12,1)" text-anchor="middle" style="font-size:10.3px;font-weight:bold;font-style:normal" fill="#111">20</text><line x1="468.9" y1="810.6" x2="468.9" y2="814.4" stroke="#333" stroke-width="1.1"/><text transform="translate(468.9,823.4) scale(1.12,1)" text-anchor="middle" style="font-size:10.3px;font-weight:bold;font-style:normal" fill="#111">40</text><line x1="502.8" y1="810.6" x2="502.8" y2="814.4" stroke="#333" stroke-width="1.1"/><text transform="translate(502.8,823.4) scale(1.12,1)" text-anchor="middle" style="font-size:10.3px;font-weight:bold;font-style:normal" fill="#111">60</text><line x1="536.7" y1="810.6" x2="536.7" y2="814.4" stroke="#333" stroke-width="1.1"/><text transform="translate(536.7,823.4) scale(1.12,1)" text-anchor="middle" style="font-size:10.3px;font-weight:bold;font-style:normal" fill="#111">80</text><line x1="570.6" y1="810.6" x2="570.6" y2="814.4" stroke="#333" stroke-width="1.1"/><text transform="translate(570.6,823.4) scale(1.12,1)" text-anchor="middle" style="font-size:10.3px;font-weight:bold;font-style:normal" fill="#111">100</text><line x1="604.5" y1="810.6" x2="604.5" y2="814.4" stroke="#333" stroke-width="1.1"/><text transform="translate(604.5,823.4) scale(1.12,1)" text-anchor="middle" style="font-size:10.3px;font-weight:bold;font-style:normal" fill="#111">120</text><text transform="translate(500.3,837.8) scale(1.1,1)" text-anchor="middle" style="font-size:10.7px;font-weight:bold;font-style:normal" fill="#111">Time (months)</text><text transform="translate(360.2,718.7) rotate(-90) scale(0.884,1)" text-anchor="middle" style="font-size:12px;font-weight:bold;font-style:normal" fill="#111">Percentage of Overall Survival</text><text transform="translate(496.6,614.3) scale(1.2,1)" text-anchor="middle" style="font-size:12.9px;font-weight:bold;font-style:normal" fill="#111" stroke="#111" stroke-width="0.25">KLF4</text><text transform="translate(590.7,652.3) scale(1.08,1)" text-anchor="end" style="font-size:11.2px;font-weight:bold;font-style:italic" fill="#111" stroke="#111" stroke-width="0.15">P=0.04</text><path d="M400.7,634.2H405.1V638.6H414.3V642.5H416V647.3H420.4V655.7H422.6V660.5H437.9V664.4H440.8V668.8H441.5V673.5H453.9V678.4H455V682.3H455.9V687.2H500.3V692.3H505.5V697.3H514.2V702.5H525.1V709.3H525.6V715.2H530.9V722H539.6V729.8H543.1V737.4H548.4V745.3H549.8V756.2H578.5V756.2" fill="none" stroke="#4a5db0" stroke-width="1.2"/><path d="M402,632V636.4M430.9,658.3V662.7M488.8,685V689.4M490.3,685V689.4M504.2,690.1V694.5M512.7,695.1V699.5M519.5,700.3V704.7M526.5,713V717.4M530.9,719.8V724.2M548.8,743.1V747.5M551.4,754V758.4M554.9,754V758.4M558.4,754V758.4M576.8,754V758.4" stroke="#4a5db0" stroke-width="1.3" fill="none"/><path d="M400.3,630.3H403.8V633.8H405.5V638.6H407.3V645.6H408.6V646.9H409.5V652.2H412.1V652.6H413.4V654.3H414.3V658.3H416V659.6H416.9V662.7H417.8V665.3H420.8V665.7H421.3V668.4H424.3V673.4H425.7V675.8H427V679.3H427.4V684.5H431.4V685.8H434V688H436.6V692.8H439.3V694.6H444.1V695H445V699H446.7V701.2H450.2V702.9H453.3V703.8H454.6V706.9H455.5V708.2H461.2V708.6H462.9V711.7H463.8V713.4H466V713.9H467.7V715.6H470.4V716H471.7V717.4H474.3V717.8H477.4V719.1H478.3V722.6H479.2V727.4H493.2V729.2H495.8V733.6H508.4V735H511V736.2H512.8V738.5H513.9V741.5H534.1V750H545.3V750" fill="none" stroke="#3db14c" stroke-width="1.2"/><path d="M402.4,627.6V632M404.6,631.6V636M405.5,636.4V640.8M424.5,671.2V675.6M434.9,685.8V690.2M447.6,699V703.4M455,704.8V709.2M474.7,715.6V720M492.3,725.2V729.6M495.4,727V731.4M497.6,731.4V735.8M499.3,731.4V735.8M501.7,731.4V735.8M505.2,731.4V735.8M511,734V738.4M512.8,736.3V740.7M518.6,739.3V743.7M520.4,739.3V743.7M528,739.3V743.7M530.9,739.3V743.7M534.4,747.8V752.2M536.7,747.8V752.2M538.5,747.8V752.2M540.2,747.8V752.2M544.3,747.8V752.2" stroke="#3db14c" stroke-width="1.3" fill="none"/><path d="M399.1,760.9H409.5V756.2H419.7V760.7" fill="none" stroke="#4a5db0" stroke-width="1.3"/><path d="M399.1,773.2H409.5V768.8H419.7V773.2" fill="none" stroke="#3db14c" stroke-width="1.3"/><path d="M399.1,783.2H419.7M409.2,779V787.3" fill="none" stroke="#4a5db0" stroke-width="1.3"/><path d="M399.1,795.5H419.7M409.2,791.5V799.8" fill="none" stroke="#3db14c" stroke-width="1.3"/><text transform="translate(425.8,761.3) scale(1.03,1)" text-anchor="start" style="font-size:10.1px;font-weight:normal;font-style:normal" fill="#111" stroke="#111" stroke-width="0.1">KLF4 High</text><text transform="translate(425.8,774.2) scale(1.03,1)" text-anchor="start" style="font-size:10.1px;font-weight:normal;font-style:normal" fill="#111" stroke="#111" stroke-width="0.1">KLF4 Low</text><text transform="translate(425.8,787.2) scale(1.03,1)" text-anchor="start" style="font-size:10.1px;font-weight:normal;font-style:normal" fill="#111" stroke="#111" stroke-width="0.1">KLF4 High censored</text><text transform="translate(425.8,800.1) scale(1.03,1)" text-anchor="start" style="font-size:10.1px;font-weight:normal;font-style:normal" fill="#111" stroke="#111" stroke-width="0.1">KLF4 Low censored</text><text x="341.6" y="599.1" text-anchor="start" style="font-size:17px;font-weight:bold;font-style:normal" fill="#111">D</text>
</svg>
</body></html>
